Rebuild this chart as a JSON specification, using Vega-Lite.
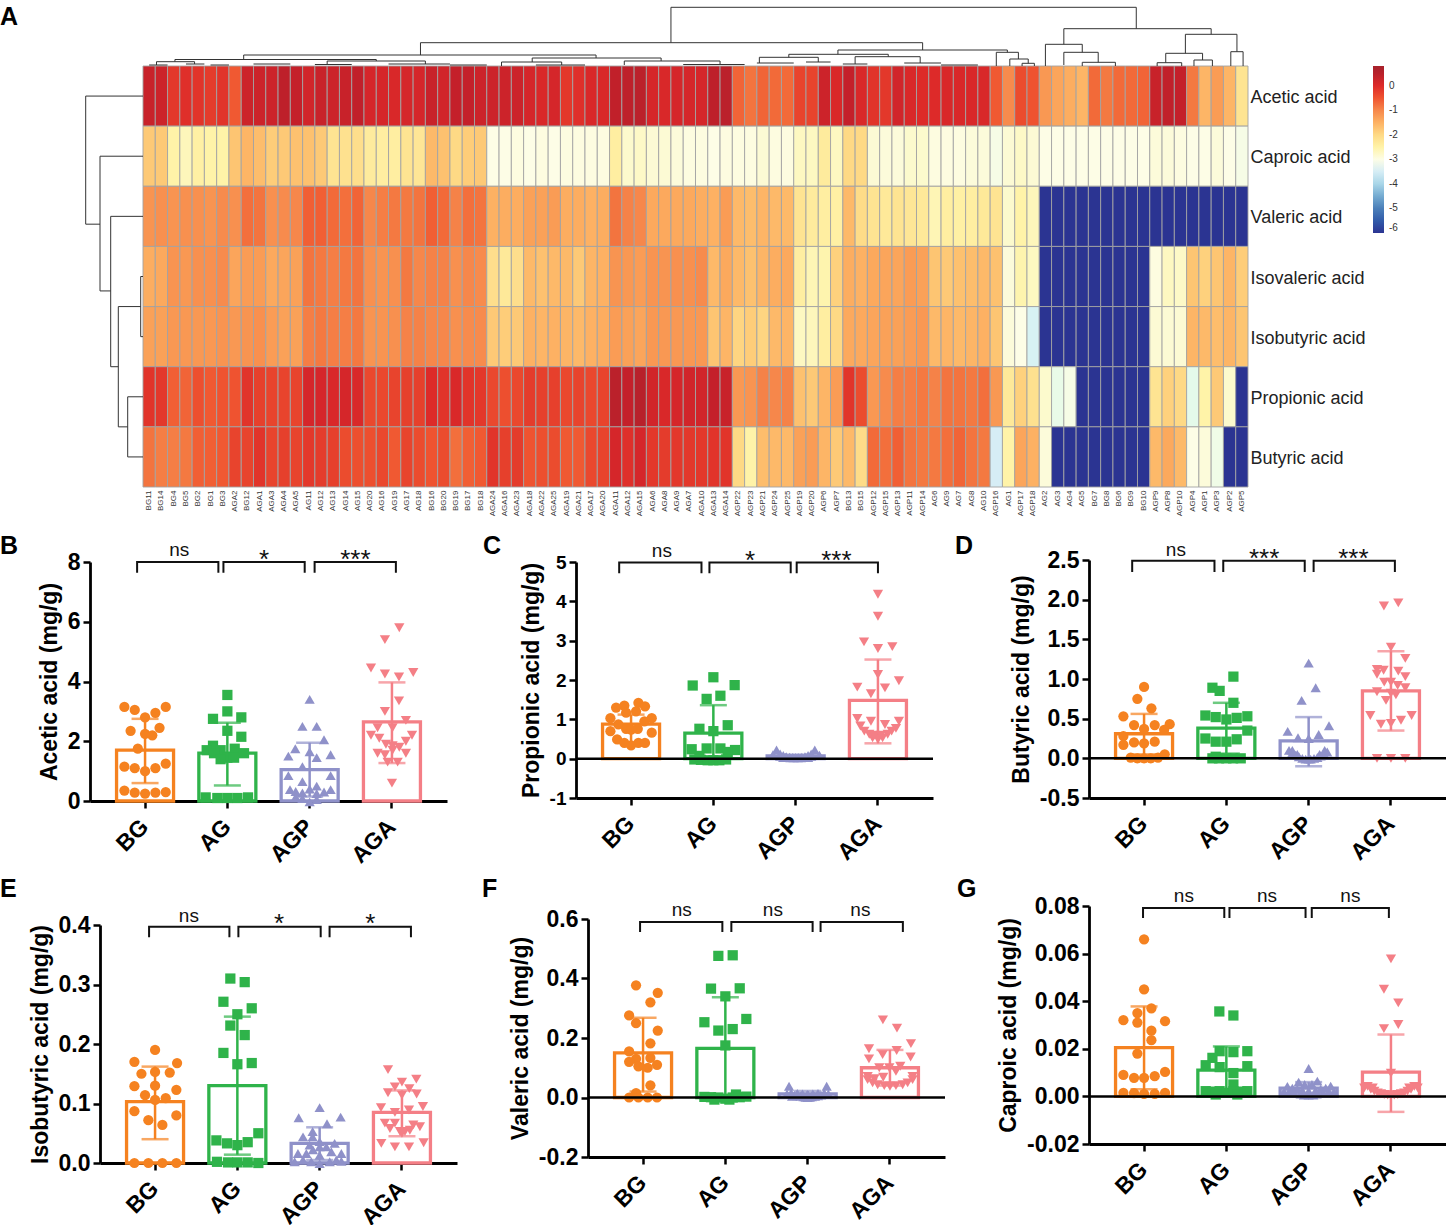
{"$schema":"https://vega.github.io/schema/vega-lite/v6.json","padding":{"left":0,"top":4,"right":0,"bottom":0},"background":"white","spacing":0,"config":{"view":{"stroke":null},"font":"Liberation Sans","axis":{"grid":false,"domainColor":"black","domainWidth":2.8,"tickColor":"black","tickWidth":2.5,"tickSize":7,"labelColor":"black","titleColor":"black","labelFont":"Liberation Sans","titleFont":"Liberation Sans","labelFontWeight":"bold","titleFontWeight":"bold","labelFontSize":23,"titleFontSize":23,"titlePadding":6,"labelPadding":3,"zindex":1,"labelOverlap":false},"axisX":{"labelAngle":-45,"labelAlign":"right","labelBaseline":"middle","labelFontSize":23,"labelPadding":15},"title":{"font":"Liberation Sans","fontWeight":"bold","fontSize":25,"color":"black","anchor":"start","frame":"group","orient":"top","offset":0,"baseline":"alphabetic","align":"left"}},
"datasets":{
"heat":[
{"s":"BG11","a":"Acetic acid","v":0.25},{"s":"BG14","a":"Acetic acid","v":0.2},{"s":"BG4","a":"Acetic acid","v":-0.15},{"s":"BG5","a":"Acetic acid","v":-0.05},{"s":"BG2","a":"Acetic acid","v":-0.1},{"s":"BG1","a":"Acetic acid","v":-0.2},{"s":"BG3","a":"Acetic acid","v":-0.1},{"s":"AGA2","a":"Acetic acid","v":-0.55},{"s":"BG12","a":"Acetic acid","v":0.2},{"s":"AGA1","a":"Acetic acid","v":0.2},{"s":"AGA3","a":"Acetic acid","v":0.2},{"s":"AGA4","a":"Acetic acid","v":0.4},{"s":"AGA5","a":"Acetic acid","v":0.3},{"s":"AG11","a":"Acetic acid","v":0.15},{"s":"AG12","a":"Acetic acid","v":0.25},{"s":"AG13","a":"Acetic acid","v":0.2},{"s":"AG14","a":"Acetic acid","v":0.25},{"s":"AG15","a":"Acetic acid","v":0.35},{"s":"AG20","a":"Acetic acid","v":0.1},{"s":"AG16","a":"Acetic acid","v":0.1},{"s":"AG19","a":"Acetic acid","v":0.05},{"s":"AG17","a":"Acetic acid","v":0.1},{"s":"AG18","a":"Acetic acid","v":0.1},{"s":"BG16","a":"Acetic acid","v":0.25},{"s":"BG20","a":"Acetic acid","v":0.15},{"s":"BG19","a":"Acetic acid","v":0.3},{"s":"BG17","a":"Acetic acid","v":0.3},{"s":"BG18","a":"Acetic acid","v":0.2},{"s":"AGA24","a":"Acetic acid","v":0.2},{"s":"AGA16","a":"Acetic acid","v":0.2},{"s":"AGA23","a":"Acetic acid","v":0.2},{"s":"AGA18","a":"Acetic acid","v":0.1},{"s":"AGA22","a":"Acetic acid","v":0.05},{"s":"AGA25","a":"Acetic acid","v":0.1},{"s":"AGA19","a":"Acetic acid","v":-0.15},{"s":"AGA21","a":"Acetic acid","v":-0.05},{"s":"AGA17","a":"Acetic acid","v":0.05},{"s":"AGA20","a":"Acetic acid","v":0.05},{"s":"AGA11","a":"Acetic acid","v":0.35},{"s":"AGA12","a":"Acetic acid","v":0.4},{"s":"AGA15","a":"Acetic acid","v":0.45},{"s":"AGA6","a":"Acetic acid","v":0.1},{"s":"AGA8","a":"Acetic acid","v":0.05},{"s":"AGA9","a":"Acetic acid","v":0.1},{"s":"AGA7","a":"Acetic acid","v":0.1},{"s":"AGA10","a":"Acetic acid","v":0.1},{"s":"AGA13","a":"Acetic acid","v":0.4},{"s":"AGA14","a":"Acetic acid","v":0.45},{"s":"AGP22","a":"Acetic acid","v":-0.65},{"s":"AGP23","a":"Acetic acid","v":-0.8},{"s":"AGP21","a":"Acetic acid","v":-0.65},{"s":"AGP24","a":"Acetic acid","v":-0.7},{"s":"AGP25","a":"Acetic acid","v":-0.7},{"s":"AGP19","a":"Acetic acid","v":-0.3},{"s":"AGP20","a":"Acetic acid","v":-0.3},{"s":"AGP6","a":"Acetic acid","v":0.2},{"s":"AGP7","a":"Acetic acid","v":0.05},{"s":"BG13","a":"Acetic acid","v":0.3},{"s":"BG15","a":"Acetic acid","v":0.05},{"s":"AGP12","a":"Acetic acid","v":-0.1},{"s":"AGP15","a":"Acetic acid","v":-0.15},{"s":"AGP13","a":"Acetic acid","v":0.15},{"s":"AGP11","a":"Acetic acid","v":0.05},{"s":"AGP14","a":"Acetic acid","v":0},{"s":"AG6","a":"Acetic acid","v":0},{"s":"AG9","a":"Acetic acid","v":0.05},{"s":"AG7","a":"Acetic acid","v":0.05},{"s":"AG8","a":"Acetic acid","v":0.05},{"s":"AG10","a":"Acetic acid","v":0.05},{"s":"AGP16","a":"Acetic acid","v":-0.55},{"s":"AG1","a":"Acetic acid","v":-1.05},{"s":"AGP17","a":"Acetic acid","v":-0.4},{"s":"AGP18","a":"Acetic acid","v":-0.5},{"s":"AG2","a":"Acetic acid","v":-1.2},{"s":"AG3","a":"Acetic acid","v":-1.35},{"s":"AG4","a":"Acetic acid","v":-1.45},{"s":"AG5","a":"Acetic acid","v":-1.55},{"s":"BG7","a":"Acetic acid","v":-0.7},{"s":"BG8","a":"Acetic acid","v":-0.85},{"s":"BG6","a":"Acetic acid","v":-0.7},{"s":"BG9","a":"Acetic acid","v":-0.7},{"s":"BG10","a":"Acetic acid","v":-0.65},{"s":"AGP9","a":"Acetic acid","v":0.25},{"s":"AGP8","a":"Acetic acid","v":0.35},{"s":"AGP10","a":"Acetic acid","v":0.3},{"s":"AGP4","a":"Acetic acid","v":-0.85},{"s":"AGP1","a":"Acetic acid","v":-1.55},{"s":"AGP3","a":"Acetic acid","v":-1.25},{"s":"AGP2","a":"Acetic acid","v":-1.55},{"s":"AGP5","a":"Acetic acid","v":-2.2},
{"s":"BG11","a":"Caproic acid","v":-1.8},{"s":"BG14","a":"Caproic acid","v":-1.8},{"s":"BG4","a":"Caproic acid","v":-2.5},{"s":"BG5","a":"Caproic acid","v":-2.65},{"s":"BG2","a":"Caproic acid","v":-2.45},{"s":"BG1","a":"Caproic acid","v":-2.5},{"s":"BG3","a":"Caproic acid","v":-2.5},{"s":"AGA2","a":"Caproic acid","v":-1.75},{"s":"BG12","a":"Caproic acid","v":-1.55},{"s":"AGA1","a":"Caproic acid","v":-1.65},{"s":"AGA3","a":"Caproic acid","v":-1.85},{"s":"AGA4","a":"Caproic acid","v":-1.8},{"s":"AGA5","a":"Caproic acid","v":-1.7},{"s":"AG11","a":"Caproic acid","v":-1.7},{"s":"AG12","a":"Caproic acid","v":-1.8},{"s":"AG13","a":"Caproic acid","v":-2.2},{"s":"AG14","a":"Caproic acid","v":-2.15},{"s":"AG15","a":"Caproic acid","v":-2.1},{"s":"AG20","a":"Caproic acid","v":-2.35},{"s":"AG16","a":"Caproic acid","v":-2.4},{"s":"AG19","a":"Caproic acid","v":-2.4},{"s":"AG17","a":"Caproic acid","v":-2.2},{"s":"AG18","a":"Caproic acid","v":-2.25},{"s":"BG16","a":"Caproic acid","v":-1.6},{"s":"BG20","a":"Caproic acid","v":-1.7},{"s":"BG19","a":"Caproic acid","v":-2},{"s":"BG17","a":"Caproic acid","v":-1.85},{"s":"BG18","a":"Caproic acid","v":-1.8},{"s":"AGA24","a":"Caproic acid","v":-3},{"s":"AGA16","a":"Caproic acid","v":-3},{"s":"AGA23","a":"Caproic acid","v":-2.95},{"s":"AGA18","a":"Caproic acid","v":-3},{"s":"AGA22","a":"Caproic acid","v":-2.95},{"s":"AGA25","a":"Caproic acid","v":-3},{"s":"AGA19","a":"Caproic acid","v":-2.95},{"s":"AGA21","a":"Caproic acid","v":-2.95},{"s":"AGA17","a":"Caproic acid","v":-2.95},{"s":"AGA20","a":"Caproic acid","v":-2.95},{"s":"AGA11","a":"Caproic acid","v":-2.4},{"s":"AGA12","a":"Caproic acid","v":-2.8},{"s":"AGA15","a":"Caproic acid","v":-2.75},{"s":"AGA6","a":"Caproic acid","v":-2.85},{"s":"AGA8","a":"Caproic acid","v":-2.85},{"s":"AGA9","a":"Caproic acid","v":-2.9},{"s":"AGA7","a":"Caproic acid","v":-2.95},{"s":"AGA10","a":"Caproic acid","v":-2.95},{"s":"AGA13","a":"Caproic acid","v":-3},{"s":"AGA14","a":"Caproic acid","v":-2.95},{"s":"AGP22","a":"Caproic acid","v":-2.95},{"s":"AGP23","a":"Caproic acid","v":-2.95},{"s":"AGP21","a":"Caproic acid","v":-2.85},{"s":"AGP24","a":"Caproic acid","v":-2.95},{"s":"AGP25","a":"Caproic acid","v":-2.95},{"s":"AGP19","a":"Caproic acid","v":-2.7},{"s":"AGP20","a":"Caproic acid","v":-2.7},{"s":"AGP6","a":"Caproic acid","v":-2.35},{"s":"AGP7","a":"Caproic acid","v":-2.7},{"s":"BG13","a":"Caproic acid","v":-2},{"s":"BG15","a":"Caproic acid","v":-2},{"s":"AGP12","a":"Caproic acid","v":-2.85},{"s":"AGP15","a":"Caproic acid","v":-2.9},{"s":"AGP13","a":"Caproic acid","v":-2.9},{"s":"AGP11","a":"Caproic acid","v":-2.8},{"s":"AGP14","a":"Caproic acid","v":-2.8},{"s":"AG6","a":"Caproic acid","v":-2.95},{"s":"AG9","a":"Caproic acid","v":-2.95},{"s":"AG7","a":"Caproic acid","v":-2.95},{"s":"AG8","a":"Caproic acid","v":-2.9},{"s":"AG10","a":"Caproic acid","v":-2.9},{"s":"AGP16","a":"Caproic acid","v":-3.05},{"s":"AG1","a":"Caproic acid","v":-2.85},{"s":"AGP17","a":"Caproic acid","v":-2.75},{"s":"AGP18","a":"Caproic acid","v":-2.85},{"s":"AG2","a":"Caproic acid","v":-3},{"s":"AG3","a":"Caproic acid","v":-3},{"s":"AG4","a":"Caproic acid","v":-3},{"s":"AG5","a":"Caproic acid","v":-3},{"s":"BG7","a":"Caproic acid","v":-3},{"s":"BG8","a":"Caproic acid","v":-3},{"s":"BG6","a":"Caproic acid","v":-3},{"s":"BG9","a":"Caproic acid","v":-3},{"s":"BG10","a":"Caproic acid","v":-3},{"s":"AGP9","a":"Caproic acid","v":-2.9},{"s":"AGP8","a":"Caproic acid","v":-2.9},{"s":"AGP10","a":"Caproic acid","v":-2.95},{"s":"AGP4","a":"Caproic acid","v":-3},{"s":"AGP1","a":"Caproic acid","v":-3},{"s":"AGP3","a":"Caproic acid","v":-2.9},{"s":"AGP2","a":"Caproic acid","v":-3},{"s":"AGP5","a":"Caproic acid","v":-3.05},
{"s":"BG11","a":"Valeric acid","v":-1.15},{"s":"BG14","a":"Valeric acid","v":-1.1},{"s":"BG4","a":"Valeric acid","v":-1.15},{"s":"BG5","a":"Valeric acid","v":-1.1},{"s":"BG2","a":"Valeric acid","v":-1.1},{"s":"BG1","a":"Valeric acid","v":-1.15},{"s":"BG3","a":"Valeric acid","v":-1.05},{"s":"AGA2","a":"Valeric acid","v":-1.1},{"s":"BG12","a":"Valeric acid","v":-0.75},{"s":"AGA1","a":"Valeric acid","v":-0.8},{"s":"AGA3","a":"Valeric acid","v":-1.1},{"s":"AGA4","a":"Valeric acid","v":-1.05},{"s":"AGA5","a":"Valeric acid","v":-1},{"s":"AG11","a":"Valeric acid","v":-0.6},{"s":"AG12","a":"Valeric acid","v":-0.6},{"s":"AG13","a":"Valeric acid","v":-0.7},{"s":"AG14","a":"Valeric acid","v":-0.75},{"s":"AG15","a":"Valeric acid","v":-0.65},{"s":"AG20","a":"Valeric acid","v":-1},{"s":"AG16","a":"Valeric acid","v":-0.9},{"s":"AG19","a":"Valeric acid","v":-0.85},{"s":"AG17","a":"Valeric acid","v":-0.85},{"s":"AG18","a":"Valeric acid","v":-0.8},{"s":"BG16","a":"Valeric acid","v":-0.6},{"s":"BG20","a":"Valeric acid","v":-0.7},{"s":"BG19","a":"Valeric acid","v":-0.95},{"s":"BG17","a":"Valeric acid","v":-0.75},{"s":"BG18","a":"Valeric acid","v":-0.8},{"s":"AGA24","a":"Valeric acid","v":-1.5},{"s":"AGA16","a":"Valeric acid","v":-1.45},{"s":"AGA23","a":"Valeric acid","v":-1.45},{"s":"AGA18","a":"Valeric acid","v":-1.3},{"s":"AGA22","a":"Valeric acid","v":-1.3},{"s":"AGA25","a":"Valeric acid","v":-1.25},{"s":"AGA19","a":"Valeric acid","v":-1.45},{"s":"AGA21","a":"Valeric acid","v":-1.45},{"s":"AGA17","a":"Valeric acid","v":-1.5},{"s":"AGA20","a":"Valeric acid","v":-1.45},{"s":"AGA11","a":"Valeric acid","v":-0.8},{"s":"AGA12","a":"Valeric acid","v":-0.95},{"s":"AGA15","a":"Valeric acid","v":-1},{"s":"AGA6","a":"Valeric acid","v":-1.4},{"s":"AGA8","a":"Valeric acid","v":-1.4},{"s":"AGA9","a":"Valeric acid","v":-1.4},{"s":"AGA7","a":"Valeric acid","v":-1.4},{"s":"AGA10","a":"Valeric acid","v":-1.45},{"s":"AGA13","a":"Valeric acid","v":-1.5},{"s":"AGA14","a":"Valeric acid","v":-1.25},{"s":"AGP22","a":"Valeric acid","v":-1.6},{"s":"AGP23","a":"Valeric acid","v":-1.65},{"s":"AGP21","a":"Valeric acid","v":-1.55},{"s":"AGP24","a":"Valeric acid","v":-1.6},{"s":"AGP25","a":"Valeric acid","v":-1.6},{"s":"AGP19","a":"Valeric acid","v":-2.2},{"s":"AGP20","a":"Valeric acid","v":-2.35},{"s":"AGP6","a":"Valeric acid","v":-2.4},{"s":"AGP7","a":"Valeric acid","v":-2.45},{"s":"BG13","a":"Valeric acid","v":-1.6},{"s":"BG15","a":"Valeric acid","v":-2.05},{"s":"AGP12","a":"Valeric acid","v":-2.2},{"s":"AGP15","a":"Valeric acid","v":-2.3},{"s":"AGP13","a":"Valeric acid","v":-2.2},{"s":"AGP11","a":"Valeric acid","v":-2.25},{"s":"AGP14","a":"Valeric acid","v":-2.3},{"s":"AG6","a":"Valeric acid","v":-2.6},{"s":"AG9","a":"Valeric acid","v":-2.4},{"s":"AG7","a":"Valeric acid","v":-2.45},{"s":"AG8","a":"Valeric acid","v":-2.4},{"s":"AG10","a":"Valeric acid","v":-2.3},{"s":"AGP16","a":"Valeric acid","v":-2.2},{"s":"AG1","a":"Valeric acid","v":-2.8},{"s":"AGP17","a":"Valeric acid","v":-2.5},{"s":"AGP18","a":"Valeric acid","v":-2.65},{"s":"AG2","a":"Valeric acid","v":-6},{"s":"AG3","a":"Valeric acid","v":-6},{"s":"AG4","a":"Valeric acid","v":-6},{"s":"AG5","a":"Valeric acid","v":-6},{"s":"BG7","a":"Valeric acid","v":-6},{"s":"BG8","a":"Valeric acid","v":-6},{"s":"BG6","a":"Valeric acid","v":-6},{"s":"BG9","a":"Valeric acid","v":-6},{"s":"BG10","a":"Valeric acid","v":-6},{"s":"AGP9","a":"Valeric acid","v":-6},{"s":"AGP8","a":"Valeric acid","v":-6},{"s":"AGP10","a":"Valeric acid","v":-6},{"s":"AGP4","a":"Valeric acid","v":-6},{"s":"AGP1","a":"Valeric acid","v":-6},{"s":"AGP3","a":"Valeric acid","v":-6},{"s":"AGP2","a":"Valeric acid","v":-6},{"s":"AGP5","a":"Valeric acid","v":-6},
{"s":"BG11","a":"Isovaleric acid","v":-1.45},{"s":"BG14","a":"Isovaleric acid","v":-1.4},{"s":"BG4","a":"Isovaleric acid","v":-1.15},{"s":"BG5","a":"Isovaleric acid","v":-1.2},{"s":"BG2","a":"Isovaleric acid","v":-1.1},{"s":"BG1","a":"Isovaleric acid","v":-1.1},{"s":"BG3","a":"Isovaleric acid","v":-1.05},{"s":"AGA2","a":"Isovaleric acid","v":-1.35},{"s":"BG12","a":"Isovaleric acid","v":-1.25},{"s":"AGA1","a":"Isovaleric acid","v":-1.25},{"s":"AGA3","a":"Isovaleric acid","v":-1.4},{"s":"AGA4","a":"Isovaleric acid","v":-1.35},{"s":"AGA5","a":"Isovaleric acid","v":-1.3},{"s":"AG11","a":"Isovaleric acid","v":-0.8},{"s":"AG12","a":"Isovaleric acid","v":-0.85},{"s":"AG13","a":"Isovaleric acid","v":-0.9},{"s":"AG14","a":"Isovaleric acid","v":-0.85},{"s":"AG15","a":"Isovaleric acid","v":-0.8},{"s":"AG20","a":"Isovaleric acid","v":-1.1},{"s":"AG16","a":"Isovaleric acid","v":-1.15},{"s":"AG19","a":"Isovaleric acid","v":-1.1},{"s":"AG17","a":"Isovaleric acid","v":-0.85},{"s":"AG18","a":"Isovaleric acid","v":-1},{"s":"BG16","a":"Isovaleric acid","v":-0.95},{"s":"BG20","a":"Isovaleric acid","v":-0.95},{"s":"BG19","a":"Isovaleric acid","v":-1.1},{"s":"BG17","a":"Isovaleric acid","v":-1},{"s":"BG18","a":"Isovaleric acid","v":-1.05},{"s":"AGA24","a":"Isovaleric acid","v":-2.1},{"s":"AGA16","a":"Isovaleric acid","v":-2.3},{"s":"AGA23","a":"Isovaleric acid","v":-2.1},{"s":"AGA18","a":"Isovaleric acid","v":-1.6},{"s":"AGA22","a":"Isovaleric acid","v":-1.7},{"s":"AGA25","a":"Isovaleric acid","v":-1.6},{"s":"AGA19","a":"Isovaleric acid","v":-1.6},{"s":"AGA21","a":"Isovaleric acid","v":-1.8},{"s":"AGA17","a":"Isovaleric acid","v":-1.55},{"s":"AGA20","a":"Isovaleric acid","v":-1.5},{"s":"AGA11","a":"Isovaleric acid","v":-1.15},{"s":"AGA12","a":"Isovaleric acid","v":-1.2},{"s":"AGA15","a":"Isovaleric acid","v":-1.25},{"s":"AGA6","a":"Isovaleric acid","v":-1.15},{"s":"AGA8","a":"Isovaleric acid","v":-1.15},{"s":"AGA9","a":"Isovaleric acid","v":-1.1},{"s":"AGA7","a":"Isovaleric acid","v":-1.1},{"s":"AGA10","a":"Isovaleric acid","v":-1.05},{"s":"AGA13","a":"Isovaleric acid","v":-1.6},{"s":"AGA14","a":"Isovaleric acid","v":-1.4},{"s":"AGP22","a":"Isovaleric acid","v":-1.6},{"s":"AGP23","a":"Isovaleric acid","v":-1.7},{"s":"AGP21","a":"Isovaleric acid","v":-1.55},{"s":"AGP24","a":"Isovaleric acid","v":-1.45},{"s":"AGP25","a":"Isovaleric acid","v":-1.4},{"s":"AGP19","a":"Isovaleric acid","v":-2.4},{"s":"AGP20","a":"Isovaleric acid","v":-2.6},{"s":"AGP6","a":"Isovaleric acid","v":-2.55},{"s":"AGP7","a":"Isovaleric acid","v":-1.9},{"s":"BG13","a":"Isovaleric acid","v":-1.45},{"s":"BG15","a":"Isovaleric acid","v":-1.5},{"s":"AGP12","a":"Isovaleric acid","v":-1.4},{"s":"AGP15","a":"Isovaleric acid","v":-1.35},{"s":"AGP13","a":"Isovaleric acid","v":-1.35},{"s":"AGP11","a":"Isovaleric acid","v":-1.25},{"s":"AGP14","a":"Isovaleric acid","v":-1.3},{"s":"AG6","a":"Isovaleric acid","v":-1.75},{"s":"AG9","a":"Isovaleric acid","v":-1.8},{"s":"AG7","a":"Isovaleric acid","v":-1.7},{"s":"AG8","a":"Isovaleric acid","v":-1.65},{"s":"AG10","a":"Isovaleric acid","v":-1.6},{"s":"AGP16","a":"Isovaleric acid","v":-1.7},{"s":"AG1","a":"Isovaleric acid","v":-2.9},{"s":"AGP17","a":"Isovaleric acid","v":-2.55},{"s":"AGP18","a":"Isovaleric acid","v":-2.7},{"s":"AG2","a":"Isovaleric acid","v":-6},{"s":"AG3","a":"Isovaleric acid","v":-6},{"s":"AG4","a":"Isovaleric acid","v":-6},{"s":"AG5","a":"Isovaleric acid","v":-6},{"s":"BG7","a":"Isovaleric acid","v":-6},{"s":"BG8","a":"Isovaleric acid","v":-6},{"s":"BG6","a":"Isovaleric acid","v":-6},{"s":"BG9","a":"Isovaleric acid","v":-6},{"s":"BG10","a":"Isovaleric acid","v":-6},{"s":"AGP9","a":"Isovaleric acid","v":-2.95},{"s":"AGP8","a":"Isovaleric acid","v":-2.7},{"s":"AGP10","a":"Isovaleric acid","v":-2.75},{"s":"AGP4","a":"Isovaleric acid","v":-1.75},{"s":"AGP1","a":"Isovaleric acid","v":-1.9},{"s":"AGP3","a":"Isovaleric acid","v":-1.75},{"s":"AGP2","a":"Isovaleric acid","v":-1.55},{"s":"AGP5","a":"Isovaleric acid","v":-1.85},
{"s":"BG11","a":"Isobutyric acid","v":-1.3},{"s":"BG14","a":"Isobutyric acid","v":-1.3},{"s":"BG4","a":"Isobutyric acid","v":-1.2},{"s":"BG5","a":"Isobutyric acid","v":-1.2},{"s":"BG2","a":"Isobutyric acid","v":-1.2},{"s":"BG1","a":"Isobutyric acid","v":-1.2},{"s":"BG3","a":"Isobutyric acid","v":-1.15},{"s":"AGA2","a":"Isobutyric acid","v":-1.2},{"s":"BG12","a":"Isobutyric acid","v":-1.15},{"s":"AGA1","a":"Isobutyric acid","v":-1.1},{"s":"AGA3","a":"Isobutyric acid","v":-1.25},{"s":"AGA4","a":"Isobutyric acid","v":-1.3},{"s":"AGA5","a":"Isobutyric acid","v":-1.3},{"s":"AG11","a":"Isobutyric acid","v":-0.9},{"s":"AG12","a":"Isobutyric acid","v":-0.85},{"s":"AG13","a":"Isobutyric acid","v":-0.9},{"s":"AG14","a":"Isobutyric acid","v":-0.9},{"s":"AG15","a":"Isobutyric acid","v":-0.85},{"s":"AG20","a":"Isobutyric acid","v":-1.15},{"s":"AG16","a":"Isobutyric acid","v":-1.15},{"s":"AG19","a":"Isobutyric acid","v":-1.1},{"s":"AG17","a":"Isobutyric acid","v":-0.95},{"s":"AG18","a":"Isobutyric acid","v":-0.95},{"s":"BG16","a":"Isobutyric acid","v":-1},{"s":"BG20","a":"Isobutyric acid","v":-1},{"s":"BG19","a":"Isobutyric acid","v":-1.1},{"s":"BG17","a":"Isobutyric acid","v":-1.05},{"s":"BG18","a":"Isobutyric acid","v":-1.05},{"s":"AGA24","a":"Isobutyric acid","v":-1.8},{"s":"AGA16","a":"Isobutyric acid","v":-1.85},{"s":"AGA23","a":"Isobutyric acid","v":-1.8},{"s":"AGA18","a":"Isobutyric acid","v":-1.5},{"s":"AGA22","a":"Isobutyric acid","v":-1.55},{"s":"AGA25","a":"Isobutyric acid","v":-1.5},{"s":"AGA19","a":"Isobutyric acid","v":-1.55},{"s":"AGA21","a":"Isobutyric acid","v":-1.6},{"s":"AGA17","a":"Isobutyric acid","v":-1.5},{"s":"AGA20","a":"Isobutyric acid","v":-1.45},{"s":"AGA11","a":"Isobutyric acid","v":-1.25},{"s":"AGA12","a":"Isobutyric acid","v":-1.3},{"s":"AGA15","a":"Isobutyric acid","v":-1.35},{"s":"AGA6","a":"Isobutyric acid","v":-1.2},{"s":"AGA8","a":"Isobutyric acid","v":-1.2},{"s":"AGA9","a":"Isobutyric acid","v":-1.2},{"s":"AGA7","a":"Isobutyric acid","v":-1.2},{"s":"AGA10","a":"Isobutyric acid","v":-1.2},{"s":"AGA13","a":"Isobutyric acid","v":-1.75},{"s":"AGA14","a":"Isobutyric acid","v":-1.55},{"s":"AGP22","a":"Isobutyric acid","v":-1.95},{"s":"AGP23","a":"Isobutyric acid","v":-1.85},{"s":"AGP21","a":"Isobutyric acid","v":-1.95},{"s":"AGP24","a":"Isobutyric acid","v":-1.6},{"s":"AGP25","a":"Isobutyric acid","v":-1.55},{"s":"AGP19","a":"Isobutyric acid","v":-2.7},{"s":"AGP20","a":"Isobutyric acid","v":-2.65},{"s":"AGP6","a":"Isobutyric acid","v":-2.4},{"s":"AGP7","a":"Isobutyric acid","v":-2},{"s":"BG13","a":"Isobutyric acid","v":-1.4},{"s":"BG15","a":"Isobutyric acid","v":-1.4},{"s":"AGP12","a":"Isobutyric acid","v":-1.35},{"s":"AGP15","a":"Isobutyric acid","v":-1.3},{"s":"AGP13","a":"Isobutyric acid","v":-1.3},{"s":"AGP11","a":"Isobutyric acid","v":-1.25},{"s":"AGP14","a":"Isobutyric acid","v":-1.2},{"s":"AG6","a":"Isobutyric acid","v":-1.6},{"s":"AG9","a":"Isobutyric acid","v":-1.55},{"s":"AG7","a":"Isobutyric acid","v":-1.6},{"s":"AG8","a":"Isobutyric acid","v":-1.55},{"s":"AG10","a":"Isobutyric acid","v":-1.5},{"s":"AGP16","a":"Isobutyric acid","v":-1.75},{"s":"AG1","a":"Isobutyric acid","v":-2.9},{"s":"AGP17","a":"Isobutyric acid","v":-3},{"s":"AGP18","a":"Isobutyric acid","v":-3.4},{"s":"AG2","a":"Isobutyric acid","v":-6},{"s":"AG3","a":"Isobutyric acid","v":-6},{"s":"AG4","a":"Isobutyric acid","v":-6},{"s":"AG5","a":"Isobutyric acid","v":-6},{"s":"BG7","a":"Isobutyric acid","v":-6},{"s":"BG8","a":"Isobutyric acid","v":-6},{"s":"BG6","a":"Isobutyric acid","v":-6},{"s":"BG9","a":"Isobutyric acid","v":-6},{"s":"BG10","a":"Isobutyric acid","v":-6},{"s":"AGP9","a":"Isobutyric acid","v":-2.85},{"s":"AGP8","a":"Isobutyric acid","v":-2.85},{"s":"AGP10","a":"Isobutyric acid","v":-2.85},{"s":"AGP4","a":"Isobutyric acid","v":-1.55},{"s":"AGP1","a":"Isobutyric acid","v":-1.6},{"s":"AGP3","a":"Isobutyric acid","v":-1.65},{"s":"AGP2","a":"Isobutyric acid","v":-1.55},{"s":"AGP5","a":"Isobutyric acid","v":-1.75},
{"s":"BG11","a":"Propionic acid","v":-0.1},{"s":"BG14","a":"Propionic acid","v":-0.15},{"s":"BG4","a":"Propionic acid","v":-0.6},{"s":"BG5","a":"Propionic acid","v":-0.65},{"s":"BG2","a":"Propionic acid","v":-0.45},{"s":"BG1","a":"Propionic acid","v":-0.55},{"s":"BG3","a":"Propionic acid","v":-0.5},{"s":"AGA2","a":"Propionic acid","v":-0.5},{"s":"BG12","a":"Propionic acid","v":-0.1},{"s":"AGA1","a":"Propionic acid","v":-0.25},{"s":"AGA3","a":"Propionic acid","v":-0.3},{"s":"AGA4","a":"Propionic acid","v":-0.3},{"s":"AGA5","a":"Propionic acid","v":-0.3},{"s":"AG11","a":"Propionic acid","v":0.1},{"s":"AG12","a":"Propionic acid","v":0.1},{"s":"AG13","a":"Propionic acid","v":0.05},{"s":"AG14","a":"Propionic acid","v":0.1},{"s":"AG15","a":"Propionic acid","v":0.05},{"s":"AG20","a":"Propionic acid","v":-0.35},{"s":"AG16","a":"Propionic acid","v":-0.35},{"s":"AG19","a":"Propionic acid","v":-0.3},{"s":"AG17","a":"Propionic acid","v":-0.25},{"s":"AG18","a":"Propionic acid","v":-0.25},{"s":"BG16","a":"Propionic acid","v":0},{"s":"BG20","a":"Propionic acid","v":-0.1},{"s":"BG19","a":"Propionic acid","v":0.05},{"s":"BG17","a":"Propionic acid","v":-0.1},{"s":"BG18","a":"Propionic acid","v":-0.15},{"s":"AGA24","a":"Propionic acid","v":-0.35},{"s":"AGA16","a":"Propionic acid","v":-0.45},{"s":"AGA23","a":"Propionic acid","v":-0.35},{"s":"AGA18","a":"Propionic acid","v":-0.2},{"s":"AGA22","a":"Propionic acid","v":-0.25},{"s":"AGA25","a":"Propionic acid","v":-0.25},{"s":"AGA19","a":"Propionic acid","v":-0.35},{"s":"AGA21","a":"Propionic acid","v":-0.3},{"s":"AGA17","a":"Propionic acid","v":-0.35},{"s":"AGA20","a":"Propionic acid","v":-0.3},{"s":"AGA11","a":"Propionic acid","v":0.45},{"s":"AGA12","a":"Propionic acid","v":0.3},{"s":"AGA15","a":"Propionic acid","v":0.5},{"s":"AGA6","a":"Propionic acid","v":0.15},{"s":"AGA8","a":"Propionic acid","v":0.05},{"s":"AGA9","a":"Propionic acid","v":0.1},{"s":"AGA7","a":"Propionic acid","v":0.15},{"s":"AGA10","a":"Propionic acid","v":0.15},{"s":"AGA13","a":"Propionic acid","v":0.3},{"s":"AGA14","a":"Propionic acid","v":0.25},{"s":"AGP22","a":"Propionic acid","v":-1.2},{"s":"AGP23","a":"Propionic acid","v":-1.15},{"s":"AGP21","a":"Propionic acid","v":-0.95},{"s":"AGP24","a":"Propionic acid","v":-1},{"s":"AGP25","a":"Propionic acid","v":-0.95},{"s":"AGP19","a":"Propionic acid","v":-1.7},{"s":"AGP20","a":"Propionic acid","v":-1.8},{"s":"AGP6","a":"Propionic acid","v":-1.55},{"s":"AGP7","a":"Propionic acid","v":-1.25},{"s":"BG13","a":"Propionic acid","v":-0.1},{"s":"BG15","a":"Propionic acid","v":-0.4},{"s":"AGP12","a":"Propionic acid","v":-1.2},{"s":"AGP15","a":"Propionic acid","v":-1.05},{"s":"AGP13","a":"Propionic acid","v":-0.9},{"s":"AGP11","a":"Propionic acid","v":-0.9},{"s":"AGP14","a":"Propionic acid","v":-0.85},{"s":"AG6","a":"Propionic acid","v":-0.95},{"s":"AG9","a":"Propionic acid","v":-0.8},{"s":"AG7","a":"Propionic acid","v":-0.8},{"s":"AG8","a":"Propionic acid","v":-0.85},{"s":"AG10","a":"Propionic acid","v":-0.75},{"s":"AGP16","a":"Propionic acid","v":-1.2},{"s":"AG1","a":"Propionic acid","v":-2.3},{"s":"AGP17","a":"Propionic acid","v":-1.9},{"s":"AGP18","a":"Propionic acid","v":-2.15},{"s":"AG2","a":"Propionic acid","v":-2.8},{"s":"AG3","a":"Propionic acid","v":-3.15},{"s":"AG4","a":"Propionic acid","v":-3.05},{"s":"AG5","a":"Propionic acid","v":-6},{"s":"BG7","a":"Propionic acid","v":-6},{"s":"BG8","a":"Propionic acid","v":-6},{"s":"BG6","a":"Propionic acid","v":-6},{"s":"BG9","a":"Propionic acid","v":-6},{"s":"BG10","a":"Propionic acid","v":-6},{"s":"AGP9","a":"Propionic acid","v":-2.2},{"s":"AGP8","a":"Propionic acid","v":-1.9},{"s":"AGP10","a":"Propionic acid","v":-2},{"s":"AGP4","a":"Propionic acid","v":-3.2},{"s":"AGP1","a":"Propionic acid","v":-2.5},{"s":"AGP3","a":"Propionic acid","v":-1.8},{"s":"AGP2","a":"Propionic acid","v":-2.8},{"s":"AGP5","a":"Propionic acid","v":-6},
{"s":"BG11","a":"Butyric acid","v":-0.8},{"s":"BG14","a":"Butyric acid","v":-0.9},{"s":"BG4","a":"Butyric acid","v":-0.9},{"s":"BG5","a":"Butyric acid","v":-0.85},{"s":"BG2","a":"Butyric acid","v":-0.6},{"s":"BG1","a":"Butyric acid","v":-0.6},{"s":"BG3","a":"Butyric acid","v":-0.55},{"s":"AGA2","a":"Butyric acid","v":-0.3},{"s":"BG12","a":"Butyric acid","v":-0.3},{"s":"AGA1","a":"Butyric acid","v":-0.1},{"s":"AGA3","a":"Butyric acid","v":-0.3},{"s":"AGA4","a":"Butyric acid","v":-0.25},{"s":"AGA5","a":"Butyric acid","v":-0.3},{"s":"AG11","a":"Butyric acid","v":-0.15},{"s":"AG12","a":"Butyric acid","v":-0.2},{"s":"AG13","a":"Butyric acid","v":-0.25},{"s":"AG14","a":"Butyric acid","v":-0.4},{"s":"AG15","a":"Butyric acid","v":-0.45},{"s":"AG20","a":"Butyric acid","v":-0.45},{"s":"AG16","a":"Butyric acid","v":-0.35},{"s":"AG19","a":"Butyric acid","v":-0.55},{"s":"AG17","a":"Butyric acid","v":-0.3},{"s":"AG18","a":"Butyric acid","v":-0.4},{"s":"BG16","a":"Butyric acid","v":-0.5},{"s":"BG20","a":"Butyric acid","v":-0.4},{"s":"BG19","a":"Butyric acid","v":-0.75},{"s":"BG17","a":"Butyric acid","v":-0.6},{"s":"BG18","a":"Butyric acid","v":-0.55},{"s":"AGA24","a":"Butyric acid","v":-0.1},{"s":"AGA16","a":"Butyric acid","v":-0.25},{"s":"AGA23","a":"Butyric acid","v":-0.2},{"s":"AGA18","a":"Butyric acid","v":-0.5},{"s":"AGA22","a":"Butyric acid","v":-0.45},{"s":"AGA25","a":"Butyric acid","v":-0.4},{"s":"AGA19","a":"Butyric acid","v":-0.55},{"s":"AGA21","a":"Butyric acid","v":-0.55},{"s":"AGA17","a":"Butyric acid","v":-0.35},{"s":"AGA20","a":"Butyric acid","v":-0.3},{"s":"AGA11","a":"Butyric acid","v":0.1},{"s":"AGA12","a":"Butyric acid","v":-0.05},{"s":"AGA15","a":"Butyric acid","v":0.1},{"s":"AGA6","a":"Butyric acid","v":-0.15},{"s":"AGA8","a":"Butyric acid","v":-0.2},{"s":"AGA9","a":"Butyric acid","v":-0.15},{"s":"AGA7","a":"Butyric acid","v":-0.15},{"s":"AGA10","a":"Butyric acid","v":-0.15},{"s":"AGA13","a":"Butyric acid","v":-0.1},{"s":"AGA14","a":"Butyric acid","v":-0.1},{"s":"AGP22","a":"Butyric acid","v":-2},{"s":"AGP23","a":"Butyric acid","v":-2.5},{"s":"AGP21","a":"Butyric acid","v":-1.65},{"s":"AGP24","a":"Butyric acid","v":-1.6},{"s":"AGP25","a":"Butyric acid","v":-1.6},{"s":"AGP19","a":"Butyric acid","v":-1.3},{"s":"AGP20","a":"Butyric acid","v":-1.25},{"s":"AGP6","a":"Butyric acid","v":-1.55},{"s":"AGP7","a":"Butyric acid","v":-1.8},{"s":"BG13","a":"Butyric acid","v":-1.6},{"s":"BG15","a":"Butyric acid","v":-2.05},{"s":"AGP12","a":"Butyric acid","v":-0.7},{"s":"AGP15","a":"Butyric acid","v":-0.75},{"s":"AGP13","a":"Butyric acid","v":-0.6},{"s":"AGP11","a":"Butyric acid","v":-0.8},{"s":"AGP14","a":"Butyric acid","v":-0.85},{"s":"AG6","a":"Butyric acid","v":-0.85},{"s":"AG9","a":"Butyric acid","v":-0.75},{"s":"AG7","a":"Butyric acid","v":-0.65},{"s":"AG8","a":"Butyric acid","v":-0.8},{"s":"AG10","a":"Butyric acid","v":-0.85},{"s":"AGP16","a":"Butyric acid","v":-3.5},{"s":"AG1","a":"Butyric acid","v":-2.5},{"s":"AGP17","a":"Butyric acid","v":-1.35},{"s":"AGP18","a":"Butyric acid","v":-1.5},{"s":"AG2","a":"Butyric acid","v":-2.9},{"s":"AG3","a":"Butyric acid","v":-6},{"s":"AG4","a":"Butyric acid","v":-6},{"s":"AG5","a":"Butyric acid","v":-6},{"s":"BG7","a":"Butyric acid","v":-6},{"s":"BG8","a":"Butyric acid","v":-6},{"s":"BG6","a":"Butyric acid","v":-6},{"s":"BG9","a":"Butyric acid","v":-6},{"s":"BG10","a":"Butyric acid","v":-6},{"s":"AGP9","a":"Butyric acid","v":-1.6},{"s":"AGP8","a":"Butyric acid","v":-1.4},{"s":"AGP10","a":"Butyric acid","v":-1.6},{"s":"AGP4","a":"Butyric acid","v":-3},{"s":"AGP1","a":"Butyric acid","v":-2.9},{"s":"AGP3","a":"Butyric acid","v":-3.1},{"s":"AGP2","a":"Butyric acid","v":-6},{"s":"AGP5","a":"Butyric acid","v":-6}],
"dtop":[{"x":43,"x2":80.9,"h":58.7,"h2":58.7},{"x":43,"x2":43,"h":58.7,"h2":23.3},{"x":80.9,"x2":80.9,"h":58.7,"h2":37.3},{"x":22.6,"x2":63.5,"h":23.3,"h2":23.3},{"x":22.6,"x2":22.6,"h":23.3,"h2":11},{"x":63.5,"x2":63.5,"h":23.3,"h2":16},{"x":8.2,"x2":36.9,"h":11,"h2":11},{"x":8.2,"x2":8.2,"h":11,"h2":6.5},{"x":36.9,"x2":36.9,"h":11,"h2":8},{"x":2.6,"x2":19,"h":6.5,"h2":6.5},{"x":2.6,"x2":2.6,"h":6.5,"h2":4.3},{"x":19,"x2":19,"h":6.5,"h2":5},{"x":31.7,"x2":42.2,"h":8,"h2":8},{"x":31.7,"x2":31.7,"h":8,"h2":4},{"x":42.2,"x2":42.2,"h":8,"h2":5},{"x":1.1,"x2":4.2,"h":4.3,"h2":4.3},{"x":1.1,"x2":1.1,"h":4.3,"h2":1},{"x":4.2,"x2":4.2,"h":4.3,"h2":2},{"x":15,"x2":23,"h":5,"h2":5},{"x":15,"x2":15,"h":5,"h2":1.5},{"x":23,"x2":23,"h":5,"h2":2},{"x":29.2,"x2":34.1,"h":4,"h2":4},{"x":29.2,"x2":29.2,"h":4,"h2":0},{"x":34.1,"x2":34.1,"h":4,"h2":1},{"x":39.2,"x2":47,"h":5,"h2":5},{"x":39.2,"x2":39.2,"h":5,"h2":1},{"x":47,"x2":47,"h":5,"h2":1.5},{"x":56.6,"x2":70.4,"h":16,"h2":16},{"x":56.6,"x2":56.6,"h":16,"h2":11.7},{"x":70.4,"x2":70.4,"h":16,"h2":13.7},{"x":52.6,"x2":60.7,"h":11.7,"h2":11.7},{"x":52.6,"x2":52.6,"h":11.7,"h2":8.7},{"x":60.7,"x2":60.7,"h":11.7,"h2":9.3},{"x":50.2,"x2":55,"h":8.7,"h2":8.7},{"x":50.2,"x2":50.2,"h":8.7,"h2":3},{"x":55,"x2":55,"h":8.7,"h2":4},{"x":58,"x2":63.3,"h":9.3,"h2":9.3},{"x":58,"x2":58,"h":9.3,"h2":2},{"x":63.3,"x2":63.3,"h":9.3,"h2":3},{"x":69.5,"x2":71.3,"h":13.7,"h2":13.7},{"x":69.5,"x2":69.5,"h":13.7,"h2":0},{"x":71.3,"x2":71.3,"h":13.7,"h2":7},{"x":70.6,"x2":72.1,"h":7,"h2":7},{"x":70.6,"x2":70.6,"h":7,"h2":0},{"x":72.1,"x2":72.1,"h":7,"h2":2.7},{"x":71.6,"x2":72.6,"h":2.7,"h2":2.7},{"x":71.6,"x2":71.6,"h":2.7,"h2":0},{"x":72.6,"x2":72.6,"h":2.7,"h2":0},{"x":75,"x2":87,"h":37.3,"h2":37.3},{"x":75,"x2":75,"h":37.3,"h2":21.7},{"x":87,"x2":87,"h":37.3,"h2":31.7},{"x":73.5,"x2":76.5,"h":21.7,"h2":21.7},{"x":73.5,"x2":73.5,"h":21.7,"h2":0},{"x":76.5,"x2":76.5,"h":21.7,"h2":13.7},{"x":75,"x2":77.8,"h":13.7,"h2":13.7},{"x":75,"x2":75,"h":13.7,"h2":1},{"x":77.8,"x2":77.8,"h":13.7,"h2":3.7},{"x":76.5,"x2":79.2,"h":3.7,"h2":3.7},{"x":76.5,"x2":76.5,"h":3.7,"h2":0},{"x":79.2,"x2":79.2,"h":3.7,"h2":0},{"x":84.9,"x2":89.1,"h":31.7,"h2":31.7},{"x":84.9,"x2":84.9,"h":31.7,"h2":12.7},{"x":89.1,"x2":89.1,"h":31.7,"h2":14.3},{"x":83.3,"x2":86.3,"h":12.7,"h2":12.7},{"x":83.3,"x2":83.3,"h":12.7,"h2":3.3},{"x":86.3,"x2":86.3,"h":12.7,"h2":6},{"x":82.6,"x2":84.6,"h":3.3,"h2":3.3},{"x":82.6,"x2":82.6,"h":3.3,"h2":0},{"x":84.6,"x2":84.6,"h":3.3,"h2":0},{"x":85.6,"x2":87.1,"h":6,"h2":6},{"x":85.6,"x2":85.6,"h":6,"h2":0},{"x":87.1,"x2":87.1,"h":6,"h2":0},{"x":88.6,"x2":89.6,"h":14.3,"h2":14.3},{"x":88.6,"x2":88.6,"h":14.3,"h2":0},{"x":89.6,"x2":89.6,"h":14.3,"h2":0},{"x":0.5,"x2":2,"h":1,"h2":1},{"x":3.5,"x2":5,"h":2,"h2":2},{"x":5.5,"x2":7,"h":1,"h2":1},{"x":9,"x2":12,"h":2,"h2":2},{"x":14,"x2":17,"h":1.5,"h2":1.5},{"x":20,"x2":25,"h":2,"h2":2},{"x":25,"x2":28,"h":1,"h2":1},{"x":32,"x2":36,"h":1,"h2":1},{"x":44,"x2":49,"h":1.5,"h2":1.5},{"x":50,"x2":53,"h":3,"h2":3},{"x":54,"x2":56,"h":4,"h2":4},{"x":57,"x2":59,"h":2,"h2":2},{"x":62,"x2":65,"h":3,"h2":3},{"x":65,"x2":68,"h":1,"h2":1}],
"dleft":[{"d":57.3,"d2":57.3,"r":0.5,"r2":2.63},{"d":57.3,"d2":0,"r":0.5,"r2":0.5},{"d":57.3,"d2":43,"r":2.63,"r2":2.63},{"d":43,"d2":43,"r":1.5,"r2":3.74},{"d":43,"d2":0,"r":1.5,"r2":1.5},{"d":43,"d2":32.3,"r":3.74,"r2":3.74},{"d":32.3,"d2":32.3,"r":2.5,"r2":5},{"d":32.3,"d2":0,"r":2.5,"r2":2.5},{"d":32.3,"d2":24.7,"r":5,"r2":5},{"d":24.7,"d2":24.7,"r":4,"r2":6},{"d":24.7,"d2":2.3,"r":4,"r2":4},{"d":24.7,"d2":15.3,"r":6,"r2":6},{"d":2.3,"d2":2.3,"r":3.5,"r2":4.5},{"d":2.3,"d2":0,"r":3.5,"r2":3.5},{"d":2.3,"d2":0,"r":4.5,"r2":4.5},{"d":15.3,"d2":15.3,"r":5.5,"r2":6.5},{"d":15.3,"d2":0,"r":5.5,"r2":5.5},{"d":15.3,"d2":0,"r":6.5,"r2":6.5}],
"bs":[{"c":"BG","mean":1.7,"lo":0.6,"hi":2.75},{"c":"AG","mean":1.6,"lo":0.52,"hi":2.62},{"c":"AGP","mean":1.05,"lo":0.15,"hi":1.95},{"c":"AGA","mean":2.65,"lo":1.27,"hi":3.97}],
"bp":[{"c":"BG","j":-2,"v":3.15},{"c":"BG","j":-1,"v":3.05},{"c":"BG","j":0,"v":2.8},{"c":"BG","j":1,"v":2.95},{"c":"BG","j":2,"v":3.15},{"c":"BG","j":-1.4,"v":2.35},{"c":"BG","j":0,"v":2.25},{"c":"BG","j":0.7,"v":2.2},{"c":"BG","j":1.4,"v":2.45},{"c":"BG","j":-0.7,"v":1.75},{"c":"BG","j":-2,"v":1.15},{"c":"BG","j":-1,"v":1.1},{"c":"BG","j":0,"v":1},{"c":"BG","j":1,"v":1.1},{"c":"BG","j":2,"v":1.25},{"c":"BG","j":-2,"v":0.35},{"c":"BG","j":-1,"v":0.28},{"c":"BG","j":0,"v":0.25},{"c":"BG","j":1,"v":0.28},{"c":"BG","j":2,"v":0.3},
{"c":"AG","j":0,"v":3.55},{"c":"AG","j":0,"v":3},{"c":"AG","j":-1.39,"v":2.75},{"c":"AG","j":1.35,"v":2.8},{"c":"AG","j":0,"v":2.35},{"c":"AG","j":1.35,"v":2.15},{"c":"AG","j":-1.39,"v":1.85},{"c":"AG","j":-2,"v":1.7},{"c":"AG","j":-0.65,"v":1.7},{"c":"AG","j":0.71,"v":1.75},{"c":"AG","j":-1.29,"v":1.6},{"c":"AG","j":0,"v":1.45},{"c":"AG","j":-0.65,"v":1.4},{"c":"AG","j":0.65,"v":1.45},{"c":"AG","j":1.61,"v":1.6},{"c":"AG","j":-2.1,"v":0.12},{"c":"AG","j":-0.97,"v":0.1},{"c":"AG","j":0,"v":0.1},{"c":"AG","j":0.97,"v":0.1},{"c":"AG","j":2,"v":0.12},
{"c":"AGP","j":0,"v":3.4},{"c":"AGP","j":-0.7,"v":2.5},{"c":"AGP","j":0.68,"v":2.5},{"c":"AGP","j":1.39,"v":2.05},{"c":"AGP","j":-1.39,"v":1.75},{"c":"AGP","j":0,"v":1.65},{"c":"AGP","j":-2.06,"v":1.5},{"c":"AGP","j":0.68,"v":1.45},{"c":"AGP","j":2.03,"v":1.55},{"c":"AGP","j":-0.7,"v":1.15},{"c":"AGP","j":-2.06,"v":0.85},{"c":"AGP","j":2.03,"v":0.85},{"c":"AGP","j":-0.7,"v":0.65},{"c":"AGP","j":0.68,"v":0.5},{"c":"AGP","j":-1.9,"v":0.38},{"c":"AGP","j":-1.35,"v":0.32},{"c":"AGP","j":-0.7,"v":0.27},{"c":"AGP","j":1.39,"v":0.3},{"c":"AGP","j":2.03,"v":0.38},{"c":"AGP","j":0.68,"v":0.25},{"c":"AGP","j":0,"v":0.4},{"c":"AGP","j":-0.7,"v":0.08},{"c":"AGP","j":0,"v":-0.03},{"c":"AGP","j":0.68,"v":0.05},{"c":"AGP","j":-1.35,"v":0.13},
{"c":"AGA","j":0.71,"v":5.8},{"c":"AGA","j":-0.68,"v":5.4},{"c":"AGA","j":-2.03,"v":4.45},{"c":"AGA","j":-0.68,"v":4.25},{"c":"AGA","j":0.68,"v":4.15},{"c":"AGA","j":2.06,"v":4.3},{"c":"AGA","j":0.68,"v":3.35},{"c":"AGA","j":-0.68,"v":3},{"c":"AGA","j":1.35,"v":2.7},{"c":"AGA","j":-1.39,"v":2.45},{"c":"AGA","j":0.06,"v":2.45},{"c":"AGA","j":-2.03,"v":2.2},{"c":"AGA","j":1.94,"v":2.2},{"c":"AGA","j":-1.23,"v":2.1},{"c":"AGA","j":1.35,"v":2},{"c":"AGA","j":-0.58,"v":1.9},{"c":"AGA","j":0.06,"v":1.85},{"c":"AGA","j":0.71,"v":1.8},{"c":"AGA","j":-1.39,"v":1.6},{"c":"AGA","j":-0.68,"v":1.55},{"c":"AGA","j":1.35,"v":1.6},{"c":"AGA","j":0.06,"v":1.7},{"c":"AGA","j":-0.42,"v":1.3},{"c":"AGA","j":0.55,"v":1.3},{"c":"AGA","j":0,"v":0.6}],
"bk":[{"b":1,"k":0,"c":"BG","j":-0.77,"v":7.67},{"b":1,"k":1,"c":"BG","j":-0.77,"v":8},{"b":1,"k":2,"c":"AG","j":-0.87,"v":8},{"b":1,"k":3,"c":"AG","j":-0.87,"v":7.67},{"b":2,"k":0,"c":"AG","j":-0.38,"v":7.67},{"b":2,"k":1,"c":"AG","j":-0.38,"v":8},{"b":2,"k":2,"c":"AGP","j":-0.48,"v":8},{"b":2,"k":3,"c":"AGP","j":-0.48,"v":7.67},{"b":3,"k":0,"c":"AGP","j":0.48,"v":7.67},{"b":3,"k":1,"c":"AGP","j":0.48,"v":8},{"b":3,"k":2,"c":"AGA","j":0.38,"v":8},{"b":3,"k":3,"c":"AGA","j":0.38,"v":7.67}],
"bt":[{"c":"BG","j":3.3,"v":8.2,"t":"ns","z":19},{"c":"AG","j":3.56,"v":7.8,"t":"*","z":26},{"c":"AGP","j":4.42,"v":7.8,"t":"***","z":26}],
"cs":[{"c":"BG","mean":0.88,"lo":0.4,"hi":1.12},{"c":"AG","mean":0.65,"lo":0,"hi":1.36},{"c":"AGP","mean":0.07,"lo":0.04,"hi":0.1},{"c":"AGA","mean":1.48,"lo":0.39,"hi":2.52}],
"cp":[{"c":"BG","j":0.71,"v":1.42},{"c":"BG","j":-0.65,"v":1.35},{"c":"BG","j":-1.45,"v":1.3},{"c":"BG","j":1.35,"v":1.33},{"c":"BG","j":-0.48,"v":1.17},{"c":"BG","j":0.48,"v":1.2},{"c":"BG","j":-2,"v":1.03},{"c":"BG","j":2,"v":1.03},{"c":"BG","j":1.29,"v":0.95},{"c":"BG","j":-1.23,"v":0.87},{"c":"BG","j":-0.48,"v":0.76},{"c":"BG","j":0.65,"v":0.76},{"c":"BG","j":0,"v":0.74},{"c":"BG","j":-2,"v":0.7},{"c":"BG","j":2,"v":0.66},{"c":"BG","j":-1.35,"v":0.49},{"c":"BG","j":-0.65,"v":0.4},{"c":"BG","j":0.71,"v":0.4},{"c":"BG","j":1.35,"v":0.4},{"c":"BG","j":0,"v":0.34},
{"c":"AG","j":0,"v":2.07},{"c":"AG","j":-2,"v":1.86},{"c":"AG","j":2.06,"v":1.87},{"c":"AG","j":-0.65,"v":1.52},{"c":"AG","j":0.68,"v":1.6},{"c":"AG","j":-1.35,"v":0.76},{"c":"AG","j":0,"v":0.7},{"c":"AG","j":1.39,"v":0.85},{"c":"AG","j":-2.1,"v":0.24},{"c":"AG","j":-0.65,"v":0.26},{"c":"AG","j":0.68,"v":0.26},{"c":"AG","j":2.1,"v":0.22},{"c":"AG","j":1.39,"v":0.17},{"c":"AG","j":-1.84,"v":-0.02},{"c":"AG","j":-1.2,"v":-0.03},{"c":"AG","j":-0.55,"v":-0.04},{"c":"AG","j":0,"v":-0.04},{"c":"AG","j":0.58,"v":-0.04},{"c":"AG","j":1.23,"v":-0.02},{"c":"AG","j":-1.35,"v":0.07},
{"c":"AGP","j":-1.85,"v":0.22},{"c":"AGP","j":1.85,"v":0.22},{"c":"AGP","j":-2.2,"v":0.1},{"c":"AGP","j":2.3,"v":0.09},{"c":"AGP","j":-1.5,"v":0.12},{"c":"AGP","j":1.5,"v":0.12},{"c":"AGP","j":-1.2,"v":0.08},{"c":"AGP","j":1.2,"v":0.08},{"c":"AGP","j":-0.9,"v":0.05},{"c":"AGP","j":0.9,"v":0.05},{"c":"AGP","j":-0.6,"v":0.04},{"c":"AGP","j":0.6,"v":0.04},{"c":"AGP","j":-0.3,"v":0.03},{"c":"AGP","j":0.3,"v":0.03},{"c":"AGP","j":0,"v":0.03},{"c":"AGP","j":-1.5,"v":0.06},{"c":"AGP","j":1.5,"v":0.06},{"c":"AGP","j":-1,"v":0.04},{"c":"AGP","j":1,"v":0.04},{"c":"AGP","j":-0.5,"v":0.02},{"c":"AGP","j":0.5,"v":0.02},{"c":"AGP","j":-0.2,"v":0.02},{"c":"AGP","j":0.2,"v":0.02},{"c":"AGP","j":-1.2,"v":0.03},{"c":"AGP","j":1.2,"v":0.03},
{"c":"AGA","j":0,"v":4.18},{"c":"AGA","j":0,"v":3.62},{"c":"AGA","j":-1.35,"v":2.97},{"c":"AGA","j":1.39,"v":2.85},{"c":"AGA","j":0,"v":2.8},{"c":"AGA","j":0,"v":2.14},{"c":"AGA","j":2.03,"v":1.98},{"c":"AGA","j":-2,"v":1.82},{"c":"AGA","j":0.68,"v":1.8},{"c":"AGA","j":-0.68,"v":1.65},{"c":"AGA","j":-2,"v":1.02},{"c":"AGA","j":-0.68,"v":0.95},{"c":"AGA","j":0.68,"v":0.87},{"c":"AGA","j":2.03,"v":0.95},{"c":"AGA","j":-1.7,"v":0.83},{"c":"AGA","j":1.74,"v":0.77},{"c":"AGA","j":-1.32,"v":0.7},{"c":"AGA","j":1.32,"v":0.7},{"c":"AGA","j":-0.84,"v":0.62},{"c":"AGA","j":0.94,"v":0.62},{"c":"AGA","j":-0.52,"v":0.53},{"c":"AGA","j":0.45,"v":0.53},{"c":"AGA","j":0,"v":0.49},{"c":"AGA","j":-0.35,"v":0.6},{"c":"AGA","j":0.29,"v":0.6}],
"ck":[{"b":1,"k":0,"c":"BG","j":-1.15,"v":4.74},{"b":1,"k":1,"c":"BG","j":-1.15,"v":4.99},{"b":1,"k":2,"c":"AG","j":-1.15,"v":4.99},{"b":1,"k":3,"c":"AG","j":-1.15,"v":4.74},{"b":2,"k":0,"c":"AG","j":-0.38,"v":4.74},{"b":2,"k":1,"c":"AG","j":-0.38,"v":4.99},{"b":2,"k":2,"c":"AGP","j":-0.48,"v":4.99},{"b":2,"k":3,"c":"AGP","j":-0.48,"v":4.74},{"b":3,"k":0,"c":"AGP","j":0.1,"v":4.74},{"b":3,"k":1,"c":"AGP","j":0.1,"v":4.99},{"b":3,"k":2,"c":"AGA","j":0,"v":4.99},{"b":3,"k":3,"c":"AGA","j":0,"v":4.74}],
"ct":[{"c":"BG","j":2.98,"v":5.12,"t":"ns","z":19},{"c":"AG","j":3.56,"v":4.82,"t":"*","z":26},{"c":"AGP","j":3.94,"v":4.82,"t":"***","z":26}],
"ds":[{"c":"BG","mean":0.31,"lo":0.05,"hi":0.56},{"c":"AG","mean":0.38,"lo":0.06,"hi":0.7},{"c":"AGP","mean":0.22,"lo":-0.1,"hi":0.52},{"c":"AGA","mean":0.85,"lo":0.35,"hi":1.35}],
"dp":[{"c":"BG","j":0,"v":0.9},{"c":"BG","j":-0.65,"v":0.75},{"c":"BG","j":0.71,"v":0.63},{"c":"BG","j":-2,"v":0.53},{"c":"BG","j":-0.97,"v":0.42},{"c":"BG","j":0,"v":0.37},{"c":"BG","j":1.03,"v":0.42},{"c":"BG","j":2.48,"v":0.43},{"c":"BG","j":1.94,"v":0.36},{"c":"BG","j":-2,"v":0.28},{"c":"BG","j":-0.97,"v":0.2},{"c":"BG","j":0,"v":0.19},{"c":"BG","j":1.03,"v":0.21},{"c":"BG","j":-2,"v":0.17},{"c":"BG","j":-1.29,"v":0.01},{"c":"BG","j":-0.65,"v":0},{"c":"BG","j":0,"v":0},{"c":"BG","j":0.65,"v":0},{"c":"BG","j":1.35,"v":0.01},{"c":"BG","j":2,"v":0.05},
{"c":"AG","j":0.68,"v":1.03},{"c":"AG","j":-1.35,"v":0.89},{"c":"AG","j":-0.65,"v":0.85},{"c":"AG","j":0.68,"v":0.7},{"c":"AG","j":-2.03,"v":0.54},{"c":"AG","j":-1.03,"v":0.52},{"c":"AG","j":0,"v":0.49},{"c":"AG","j":1,"v":0.51},{"c":"AG","j":2.03,"v":0.53},{"c":"AG","j":2.03,"v":0.35},{"c":"AG","j":-2.03,"v":0.25},{"c":"AG","j":-1.03,"v":0.21},{"c":"AG","j":0,"v":0.21},{"c":"AG","j":1,"v":0.24},{"c":"AG","j":-1.35,"v":0},{"c":"AG","j":-0.71,"v":0},{"c":"AG","j":0,"v":0},{"c":"AG","j":0.65,"v":0},{"c":"AG","j":1.39,"v":0},{"c":"AG","j":-1.03,"v":0.02},
{"c":"AGP","j":0,"v":1.2},{"c":"AGP","j":0.68,"v":0.89},{"c":"AGP","j":-0.68,"v":0.73},{"c":"AGP","j":1.97,"v":0.41},{"c":"AGP","j":-2.03,"v":0.34},{"c":"AGP","j":0.97,"v":0.3},{"c":"AGP","j":-1.03,"v":0.26},{"c":"AGP","j":0,"v":0.25},{"c":"AGP","j":-1.9,"v":0.1},{"c":"AGP","j":1.8,"v":0.08},{"c":"AGP","j":-1.58,"v":0.07},{"c":"AGP","j":1.48,"v":0.06},{"c":"AGP","j":-1.26,"v":0.04},{"c":"AGP","j":1.16,"v":0.03},{"c":"AGP","j":-0.94,"v":0.02},{"c":"AGP","j":0.84,"v":0.01},{"c":"AGP","j":-0.61,"v":0},{"c":"AGP","j":0.52,"v":0},{"c":"AGP","j":-0.29,"v":-0.01},{"c":"AGP","j":0.19,"v":-0.01},{"c":"AGP","j":0,"v":-0.01},{"c":"AGP","j":-1.1,"v":0.05},{"c":"AGP","j":1.06,"v":0.05},{"c":"AGP","j":-1.58,"v":0.1},{"c":"AGP","j":1.55,"v":0.1},
{"c":"AGA","j":0.71,"v":1.96},{"c":"AGA","j":-0.68,"v":1.92},{"c":"AGA","j":0,"v":1.4},{"c":"AGA","j":1.39,"v":1.26},{"c":"AGA","j":-1.35,"v":1.12},{"c":"AGA","j":-0.71,"v":1.11},{"c":"AGA","j":0.71,"v":1.1},{"c":"AGA","j":1.39,"v":1.03},{"c":"AGA","j":-1.35,"v":1.06},{"c":"AGA","j":-0.65,"v":0.96},{"c":"AGA","j":0,"v":0.96},{"c":"AGA","j":0.65,"v":0.92},{"c":"AGA","j":-1.35,"v":0.84},{"c":"AGA","j":1.39,"v":0.89},{"c":"AGA","j":0,"v":0.82},{"c":"AGA","j":-0.48,"v":0.73},{"c":"AGA","j":0.48,"v":0.8},{"c":"AGA","j":-2,"v":0.54},{"c":"AGA","j":2,"v":0.54},{"c":"AGA","j":-0.97,"v":0.43},{"c":"AGA","j":0,"v":0.44},{"c":"AGA","j":0.97,"v":0.48},{"c":"AGA","j":-1.35,"v":0},{"c":"AGA","j":0,"v":0},{"c":"AGA","j":1.39,"v":0}],
"dk":[{"b":1,"k":0,"c":"BG","j":-1.15,"v":2.36},{"b":1,"k":1,"c":"BG","j":-1.15,"v":2.49},{"b":1,"k":2,"c":"AG","j":-1.15,"v":2.49},{"b":1,"k":3,"c":"AG","j":-1.15,"v":2.36},{"b":2,"k":0,"c":"AG","j":-0.3,"v":2.36},{"b":2,"k":1,"c":"AG","j":-0.3,"v":2.49},{"b":2,"k":2,"c":"AGP","j":-0.38,"v":2.49},{"b":2,"k":3,"c":"AGP","j":-0.38,"v":2.36},{"b":3,"k":0,"c":"AGP","j":0.48,"v":2.36},{"b":3,"k":1,"c":"AGP","j":0.48,"v":2.49},{"b":3,"k":2,"c":"AGA","j":0.38,"v":2.49},{"b":3,"k":3,"c":"AGA","j":0.38,"v":2.36}],
"dt":[{"c":"BG","j":3.08,"v":2.55,"t":"ns","z":19},{"c":"AG","j":3.65,"v":2.41,"t":"***","z":26},{"c":"AGP","j":4.33,"v":2.41,"t":"***","z":26}],
"es":[{"c":"BG","mean":0.103,"lo":0.04,"hi":0.162},{"c":"AG","mean":0.13,"lo":0.014,"hi":0.246},{"c":"AGP","mean":0.033,"lo":0.005,"hi":0.06},{"c":"AGA","mean":0.085,"lo":0.045,"hi":0.122}],
"ep":[{"c":"BG","j":0,"v":0.19},{"c":"BG","j":-2,"v":0.17},{"c":"BG","j":2.13,"v":0.168},{"c":"BG","j":-1.32,"v":0.15},{"c":"BG","j":0,"v":0.153},{"c":"BG","j":1.42,"v":0.152},{"c":"BG","j":-2,"v":0.129},{"c":"BG","j":0,"v":0.13},{"c":"BG","j":2.06,"v":0.123},{"c":"BG","j":-0.97,"v":0.114},{"c":"BG","j":0,"v":0.106},{"c":"BG","j":1.03,"v":0.109},{"c":"BG","j":-2,"v":0.087},{"c":"BG","j":2.06,"v":0.08},{"c":"BG","j":-0.65,"v":0.072},{"c":"BG","j":0.71,"v":0.064},{"c":"BG","j":-2,"v":0},{"c":"BG","j":-0.65,"v":0},{"c":"BG","j":0.71,"v":0},{"c":"BG","j":2.06,"v":0},
{"c":"AG","j":-0.68,"v":0.31},{"c":"AG","j":0.71,"v":0.304},{"c":"AG","j":-1.35,"v":0.271},{"c":"AG","j":1.39,"v":0.26},{"c":"AG","j":0,"v":0.25},{"c":"AG","j":-0.68,"v":0.231},{"c":"AG","j":0.71,"v":0.215},{"c":"AG","j":-1.35,"v":0.185},{"c":"AG","j":0,"v":0.166},{"c":"AG","j":1.39,"v":0.168},{"c":"AG","j":2.03,"v":0.05},{"c":"AG","j":-2.03,"v":0.038},{"c":"AG","j":-1,"v":0.033},{"c":"AG","j":0,"v":0.03},{"c":"AG","j":1,"v":0.035},{"c":"AG","j":-1.97,"v":0.002},{"c":"AG","j":-0.9,"v":0.001},{"c":"AG","j":0,"v":0.001},{"c":"AG","j":1,"v":0.001},{"c":"AG","j":2.03,"v":0},
{"c":"AGP","j":0,"v":0.093},{"c":"AGP","j":-2.03,"v":0.076},{"c":"AGP","j":2.03,"v":0.077},{"c":"AGP","j":0.71,"v":0.066},{"c":"AGP","j":-0.68,"v":0.053},{"c":"AGP","j":-0.68,"v":0.044},{"c":"AGP","j":-1.61,"v":0.044},{"c":"AGP","j":0,"v":0.036},{"c":"AGP","j":1.45,"v":0.033},{"c":"AGP","j":-0.97,"v":0.03},{"c":"AGP","j":0,"v":0.027},{"c":"AGP","j":0.65,"v":0.027},{"c":"AGP","j":-2.1,"v":0.016},{"c":"AGP","j":2.1,"v":0.016},{"c":"AGP","j":-1.29,"v":0.016},{"c":"AGP","j":1.13,"v":0.019},{"c":"AGP","j":-0.65,"v":0.022},{"c":"AGP","j":-1.61,"v":0.005},{"c":"AGP","j":-0.81,"v":0.002},{"c":"AGP","j":0,"v":-0.001},{"c":"AGP","j":0.97,"v":0.002},{"c":"AGP","j":1.61,"v":0.005},{"c":"AGP","j":-2.42,"v":0.002},{"c":"AGP","j":2.1,"v":0.003},{"c":"AGP","j":0,"v":0.013},
{"c":"AGA","j":-1.35,"v":0.157},{"c":"AGA","j":1.39,"v":0.141},{"c":"AGA","j":0,"v":0.136},{"c":"AGA","j":-0.68,"v":0.128},{"c":"AGA","j":0.71,"v":0.125},{"c":"AGA","j":-1.35,"v":0.118},{"c":"AGA","j":1.42,"v":0.116},{"c":"AGA","j":0,"v":0.114},{"c":"AGA","j":-2.03,"v":0.093},{"c":"AGA","j":2.03,"v":0.095},{"c":"AGA","j":-0.68,"v":0.085},{"c":"AGA","j":0.68,"v":0.089},{"c":"AGA","j":-1.65,"v":0.067},{"c":"AGA","j":-0.68,"v":0.067},{"c":"AGA","j":1.1,"v":0.064},{"c":"AGA","j":1.74,"v":0.061},{"c":"AGA","j":-1.16,"v":0.058},{"c":"AGA","j":-0.19,"v":0.053},{"c":"AGA","j":0.29,"v":0.053},{"c":"AGA","j":0.77,"v":0.055},{"c":"AGA","j":-2,"v":0.033},{"c":"AGA","j":2.1,"v":0.034},{"c":"AGA","j":-0.68,"v":0.027},{"c":"AGA","j":0.68,"v":0.027},{"c":"AGA","j":0,"v":0.05}],
"ek":[{"b":1,"k":0,"c":"BG","j":-0.58,"v":0.381},{"b":1,"k":1,"c":"BG","j":-0.58,"v":0.397},{"b":1,"k":2,"c":"AG","j":-0.77,"v":0.397},{"b":1,"k":3,"c":"AG","j":-0.77,"v":0.381},{"b":2,"k":0,"c":"AG","j":0.1,"v":0.381},{"b":2,"k":1,"c":"AG","j":0.1,"v":0.397},{"b":2,"k":2,"c":"AGP","j":0.1,"v":0.397},{"b":2,"k":3,"c":"AGP","j":0.1,"v":0.381},{"b":3,"k":0,"c":"AGP","j":0.96,"v":0.381},{"b":3,"k":1,"c":"AGP","j":0.96,"v":0.397},{"b":3,"k":2,"c":"AGA","j":0.87,"v":0.397},{"b":3,"k":3,"c":"AGA","j":0.87,"v":0.381}],
"et":[{"c":"BG","j":3.27,"v":0.405,"t":"ns","z":19},{"c":"AG","j":4.04,"v":0.388,"t":"*","z":26},{"c":"AGP","j":4.9,"v":0.388,"t":"*","z":26}],
"fs":[{"c":"BG","mean":0.15,"lo":0.02,"hi":0.268},{"c":"AG","mean":0.165,"lo":0,"hi":0.337},{"c":"AGP","mean":0.012,"lo":0.002,"hi":0.022},{"c":"AGA","mean":0.1,"lo":0.04,"hi":0.16}],
"fp":[{"c":"BG","j":-0.68,"v":0.377},{"c":"BG","j":1.42,"v":0.352},{"c":"BG","j":0.71,"v":0.32},{"c":"BG","j":-1.35,"v":0.276},{"c":"BG","j":-0.68,"v":0.25},{"c":"BG","j":1.42,"v":0.225},{"c":"BG","j":0.71,"v":0.182},{"c":"BG","j":-1.35,"v":0.155},{"c":"BG","j":-0.68,"v":0.13},{"c":"BG","j":0.71,"v":0.133},{"c":"BG","j":-1.35,"v":0.12},{"c":"BG","j":-0.45,"v":0.105},{"c":"BG","j":0.45,"v":0.1},{"c":"BG","j":1.35,"v":0.11},{"c":"BG","j":0.71,"v":0.041},{"c":"BG","j":-0.68,"v":0.015},{"c":"BG","j":-1.35,"v":0},{"c":"BG","j":-0.45,"v":0},{"c":"BG","j":0.45,"v":0},{"c":"BG","j":1.35,"v":0},
{"c":"AG","j":-0.68,"v":0.476},{"c":"AG","j":0.71,"v":0.478},{"c":"AG","j":-1.39,"v":0.366},{"c":"AG","j":1.39,"v":0.367},{"c":"AG","j":0,"v":0.34},{"c":"AG","j":-2.03,"v":0.253},{"c":"AG","j":2.03,"v":0.264},{"c":"AG","j":-0.68,"v":0.225},{"c":"AG","j":0.71,"v":0.23},{"c":"AG","j":0,"v":0.175},{"c":"AG","j":-2.03,"v":0.002},{"c":"AG","j":-1.39,"v":0.001},{"c":"AG","j":-0.68,"v":0},{"c":"AG","j":0,"v":-0.004},{"c":"AG","j":0.71,"v":0},{"c":"AG","j":1.39,"v":0.001},{"c":"AG","j":2.03,"v":0.003},{"c":"AG","j":-1.06,"v":-0.007},{"c":"AG","j":0.39,"v":-0.007},{"c":"AG","j":1.03,"v":0.01},
{"c":"AGP","j":-1.8,"v":0.038},{"c":"AGP","j":1.84,"v":0.038},{"c":"AGP","j":-1.6,"v":0.015},{"c":"AGP","j":1.6,"v":0.015},{"c":"AGP","j":-2,"v":0.012},{"c":"AGP","j":2,"v":0.012},{"c":"AGP","j":-1.6,"v":0.01},{"c":"AGP","j":1.6,"v":0.01},{"c":"AGP","j":-1.3,"v":0.008},{"c":"AGP","j":1.3,"v":0.008},{"c":"AGP","j":-1,"v":0.006},{"c":"AGP","j":1,"v":0.006},{"c":"AGP","j":-0.7,"v":0.004},{"c":"AGP","j":0.7,"v":0.004},{"c":"AGP","j":-0.4,"v":0.002},{"c":"AGP","j":0.4,"v":0.002},{"c":"AGP","j":-0.2,"v":0.001},{"c":"AGP","j":0.2,"v":0.001},{"c":"AGP","j":0,"v":0},{"c":"AGP","j":0,"v":0.01},{"c":"AGP","j":-0.5,"v":0.012},{"c":"AGP","j":0.5,"v":0.012},{"c":"AGP","j":-1,"v":0.014},{"c":"AGP","j":1,"v":0.014},{"c":"AGP","j":-1.5,"v":0.004},
{"c":"AGA","j":-0.68,"v":0.261},{"c":"AGA","j":0.68,"v":0.233},{"c":"AGA","j":2.03,"v":0.181},{"c":"AGA","j":-2.03,"v":0.164},{"c":"AGA","j":0.65,"v":0.158},{"c":"AGA","j":-0.71,"v":0.144},{"c":"AGA","j":-2.03,"v":0.13},{"c":"AGA","j":2,"v":0.136},{"c":"AGA","j":-1.03,"v":0.1},{"c":"AGA","j":-0.06,"v":0.1},{"c":"AGA","j":1,"v":0.105},{"c":"AGA","j":-0.65,"v":0.068},{"c":"AGA","j":0.58,"v":0.088},{"c":"AGA","j":-2.16,"v":0.06},{"c":"AGA","j":2.19,"v":0.06},{"c":"AGA","j":-1.68,"v":0.049},{"c":"AGA","j":1.71,"v":0.049},{"c":"AGA","j":-1.19,"v":0.043},{"c":"AGA","j":1.23,"v":0.043},{"c":"AGA","j":-0.55,"v":0.04},{"c":"AGA","j":0.58,"v":0.04},{"c":"AGA","j":0,"v":0.038},{"c":"AGA","j":-2.16,"v":0.071},{"c":"AGA","j":2.19,"v":0.071},{"c":"AGA","j":-1.5,"v":0.063}],
"fk":[{"b":1,"k":0,"c":"BG","j":-0.29,"v":0.56},{"b":1,"k":1,"c":"BG","j":-0.29,"v":0.59},{"b":1,"k":2,"c":"AG","j":-0.29,"v":0.59},{"b":1,"k":3,"c":"AG","j":-0.29,"v":0.56},{"b":2,"k":0,"c":"AG","j":0.58,"v":0.56},{"b":2,"k":1,"c":"AG","j":0.58,"v":0.59},{"b":2,"k":2,"c":"AGP","j":0.48,"v":0.59},{"b":2,"k":3,"c":"AGP","j":0.48,"v":0.56},{"b":3,"k":0,"c":"AGP","j":1.25,"v":0.56},{"b":3,"k":1,"c":"AGP","j":1.25,"v":0.59},{"b":3,"k":2,"c":"AGA","j":1.25,"v":0.59},{"b":3,"k":3,"c":"AGA","j":1.25,"v":0.56}],
"ft":[{"c":"BG","j":3.75,"v":0.61,"t":"ns","z":19},{"c":"AG","j":4.6,"v":0.61,"t":"ns","z":19},{"c":"AGP","j":5.1,"v":0.61,"t":"ns","z":19}],
"gs":[{"c":"BG","mean":0.0205,"lo":0.003,"hi":0.0378},{"c":"AG","mean":0.011,"lo":0.001,"hi":0.021},{"c":"AGP","mean":0.0035,"lo":0.001,"hi":0.006},{"c":"AGA","mean":0.0102,"lo":-0.0065,"hi":0.026}],
"gp":[{"c":"BG","j":0,"v":0.066},{"c":"BG","j":0,"v":0.045},{"c":"BG","j":0.71,"v":0.037},{"c":"BG","j":-0.65,"v":0.035},{"c":"BG","j":-2,"v":0.032},{"c":"BG","j":-0.65,"v":0.031},{"c":"BG","j":2.03,"v":0.0316},{"c":"BG","j":0.71,"v":0.0276},{"c":"BG","j":0.71,"v":0.0236},{"c":"BG","j":-0.65,"v":0.018},{"c":"BG","j":-2,"v":0.009},{"c":"BG","j":2.03,"v":0.0103},{"c":"BG","j":-0.97,"v":0.0078},{"c":"BG","j":0,"v":0.0078},{"c":"BG","j":1.03,"v":0.0085},{"c":"BG","j":-2,"v":0.0015},{"c":"BG","j":-0.97,"v":0.0014},{"c":"BG","j":0,"v":0.0011},{"c":"BG","j":1.03,"v":0.0011},{"c":"BG","j":2.03,"v":0.0015},
{"c":"AG","j":-0.68,"v":0.0357},{"c":"AG","j":0.68,"v":0.034},{"c":"AG","j":-0.65,"v":0.019},{"c":"AG","j":0.68,"v":0.0186},{"c":"AG","j":2.03,"v":0.019},{"c":"AG","j":-1.35,"v":0.0162},{"c":"AG","j":-2,"v":0.0131},{"c":"AG","j":-0.65,"v":0.0123},{"c":"AG","j":2.03,"v":0.0127},{"c":"AG","j":0.68,"v":0.0098},{"c":"AG","j":0.68,"v":0.005},{"c":"AG","j":-2,"v":0.0022},{"c":"AG","j":-1.35,"v":0.002},{"c":"AG","j":-0.65,"v":0.0022},{"c":"AG","j":0,"v":0.0015},{"c":"AG","j":0.68,"v":0.0022},{"c":"AG","j":1.39,"v":0.002},{"c":"AG","j":2.03,"v":0.0022},{"c":"AG","j":-1.03,"v":0.0008},{"c":"AG","j":1.06,"v":0.0008},
{"c":"AGP","j":0,"v":0.0117},{"c":"AGP","j":-0.97,"v":0.006},{"c":"AGP","j":0.84,"v":0.0064},{"c":"AGP","j":-2.06,"v":0.0042},{"c":"AGP","j":2.13,"v":0.0043},{"c":"AGP","j":-0.39,"v":0.005},{"c":"AGP","j":0.32,"v":0.005},{"c":"AGP","j":-1.58,"v":0.0034},{"c":"AGP","j":1.65,"v":0.0034},{"c":"AGP","j":-1.1,"v":0.003},{"c":"AGP","j":1.16,"v":0.003},{"c":"AGP","j":-0.61,"v":0.0025},{"c":"AGP","j":0.68,"v":0.0025},{"c":"AGP","j":0,"v":0.0022},{"c":"AGP","j":-2.39,"v":0.002},{"c":"AGP","j":2.45,"v":0.002},{"c":"AGP","j":-1.9,"v":0.002},{"c":"AGP","j":1.97,"v":0.002},{"c":"AGP","j":-1.42,"v":0.0015},{"c":"AGP","j":1.42,"v":0.0015},{"c":"AGP","j":-0.77,"v":0.001},{"c":"AGP","j":0.77,"v":0.001},{"c":"AGP","j":0,"v":0.0006},{"c":"AGP","j":-0.45,"v":0.0006},{"c":"AGP","j":0.45,"v":0.0006},
{"c":"AGA","j":0,"v":0.0578},{"c":"AGA","j":-0.68,"v":0.045},{"c":"AGA","j":0.71,"v":0.0393},{"c":"AGA","j":0.71,"v":0.0302},{"c":"AGA","j":-0.68,"v":0.0285},{"c":"AGA","j":0,"v":0.0098},{"c":"AGA","j":-2.26,"v":0.0042},{"c":"AGA","j":2.26,"v":0.0042},{"c":"AGA","j":-1.94,"v":0.003},{"c":"AGA","j":1.94,"v":0.003},{"c":"AGA","j":-1.61,"v":0.0022},{"c":"AGA","j":1.61,"v":0.0022},{"c":"AGA","j":-1.29,"v":0.0015},{"c":"AGA","j":1.29,"v":0.0015},{"c":"AGA","j":-0.97,"v":0.0011},{"c":"AGA","j":0.97,"v":0.0011},{"c":"AGA","j":-0.65,"v":0.0008},{"c":"AGA","j":0.65,"v":0.0008},{"c":"AGA","j":-0.32,"v":0.0006},{"c":"AGA","j":0.32,"v":0.0006},{"c":"AGA","j":0,"v":0.0006},{"c":"AGA","j":-2.58,"v":0.0036},{"c":"AGA","j":2.58,"v":0.0036},{"c":"AGA","j":-1.77,"v":0.0036},{"c":"AGA","j":1.77,"v":0.0036}],
"gk":[{"b":1,"k":0,"c":"BG","j":-0.1,"v":0.0754},{"b":1,"k":1,"c":"BG","j":-0.1,"v":0.0792},{"b":1,"k":2,"c":"AG","j":-0.2,"v":0.0792},{"b":1,"k":3,"c":"AG","j":-0.2,"v":0.0754},{"b":2,"k":0,"c":"AG","j":0.3,"v":0.0754},{"b":2,"k":1,"c":"AG","j":0.3,"v":0.0792},{"b":2,"k":2,"c":"AGP","j":-0.3,"v":0.0792},{"b":2,"k":3,"c":"AGP","j":-0.3,"v":0.0754},{"b":3,"k":0,"c":"AGP","j":0.3,"v":0.0754},{"b":3,"k":1,"c":"AGP","j":0.3,"v":0.0792},{"b":3,"k":2,"c":"AGA","j":-0.2,"v":0.0792},{"b":3,"k":3,"c":"AGA","j":-0.2,"v":0.0754}],
"gt":[{"c":"BG","j":3.85,"v":0.0817,"t":"ns","z":19},{"c":"AG","j":3.94,"v":0.0817,"t":"ns","z":19},{"c":"AGP","j":4.04,"v":0.0817,"t":"ns","z":19}],
"zero":[{"z":0}]
},
"vconcat":[
{"bounds":"flush","spacing":0,"hconcat":[
{"width":53,"height":10,"data":{"name":"zero"},"mark":{"type":"point","opacity":0},"encoding":{}},
{"width":1105,"height":421,"title":{"text":"A","dx":-143,"dy":27},"resolve":{"scale":{"x":"independent","y":"independent"}},"layer":[
{"data":{"name":"heat"},"mark":{"type":"rect","stroke":"#a3a3a3","strokeWidth":0.9,"width":12.28,"height":{"band":1}},"encoding":{"x":{"field":"s","type":"nominal","sort":null,"scale":{"type":"band","paddingInner":0,"paddingOuter":0},"axis":{"title":null,"labelAngle":-90,"labelAlign":"right","labelBaseline":"middle","labelFontSize":8,"labelFontWeight":"normal","labelColor":"#333333","labelPadding":3,"domain":false,"ticks":false}},"y":{"field":"a","type":"nominal","sort":null,"scale":{"type":"band","paddingInner":0,"paddingOuter":0},"axis":{"title":null,"orient":"right","labelFontSize":18,"labelFontWeight":"normal","labelColor":"#222222","labelPadding":2,"labelOffset":2,"domain":false,"ticks":false}},"color":{"field":"v","type":"quantitative","scale":{"domain":[-6,-5,-4,-3.5,-3,-2.5,-2,-1.5,-1,-0.5,0,0.3,0.8],"range":["#2b3492","#4b7fb9","#a9d6e8","#d6edf5","#fdfde6","#fff3a8","#fed985","#fdb163","#f6874b","#ef5330","#dd2a29","#c4202a","#a6222b"]},"legend":{"orient":"none","legendX":1283,"legendY":0,"title":null,"gradientLength":167,"gradientThickness":11,"values":[-6,-5,-4,-3,-2,-1,0],"labelFontSize":10,"labelColor":"#333333","labelOverlap":false,"labelOffset":5,"format":"d","labelExpr":"replace(datum.label,'\u2212','-')"}}}},
{"data":{"name":"dtop"},"mark":{"type":"rule","color":"#333333","strokeWidth":1},"encoding":{"x":{"field":"x","type":"quantitative","scale":{"domain":[0,90],"nice":false,"zero":false},"axis":null},"x2":{"field":"x2"},"y":{"field":"h","type":"quantitative","scale":{"domain":[0,60],"range":[0,-60],"nice":false},"axis":null},"y2":{"field":"h2"}}},
{"data":{"name":"dleft"},"mark":{"type":"rule","color":"#333333","strokeWidth":1},"encoding":{"x":{"field":"d","type":"quantitative","scale":{"domain":[0,60],"range":[0,-60],"nice":false},"axis":null},"x2":{"field":"d2"},"y":{"field":"r","type":"quantitative","scale":{"domain":[0,7],"range":[0,421],"nice":false,"zero":false},"axis":null},"y2":{"field":"r2"}}}
]}
]},
{"bounds":"flush","spacing":0,"hconcat":[
{"width":357,"height":285,"title":{"text":"B","dx":-90,"dy":47},"layer":[{"encoding":{"x":{"field":"c","type":"nominal","sort":["BG","AG","AGP","AGA"],"scale":{"type":"band","domain":["BG","AG","AGP","AGA"],"paddingInner":0.31,"paddingOuter":0.324},"axis":{"title":null}},"color":{"field":"c","type":"nominal","scale":{"domain":["BG","AG","AGP","AGA"],"range":["#f58220","#2fb34a","#8f91c9","#f47f86"]},"legend":null}},"layer":[
{"data":{"name":"bs"},"mark":{"type":"bar","filled":false,"strokeWidth":3.3,"width":57},"encoding":{"y":{"field":"mean","type":"quantitative","scale":{"domain":[0,8],"range":[285,46],"nice":false},"axis":{"title":"Acetic acid (mg/g)","values":[0,2,4,6,8],"format":"d"}}}},
{"data":{"name":"bs"},"mark":{"type":"rule","strokeWidth":2.5},"encoding":{"y":{"field":"lo","type":"quantitative"},"y2":{"field":"hi"}}},
{"data":{"name":"bs"},"mark":{"type":"tick","orient":"horizontal","size":27,"thickness":2.5},"encoding":{"y":{"field":"hi","type":"quantitative"}}},
{"data":{"name":"bs"},"mark":{"type":"tick","orient":"horizontal","size":27,"thickness":2.5},"encoding":{"y":{"field":"lo","type":"quantitative"}}},
{"data":{"name":"bp"},"mark":{"type":"point","filled":true,"opacity":1,"size":105},"encoding":{"xOffset":{"field":"j","type":"quantitative","scale":{"domain":[-3,3],"range":[-2.6,59.4]}},"y":{"field":"v","type":"quantitative"},"shape":{"field":"c","type":"nominal","scale":{"domain":["BG","AG","AGP","AGA"],"range":["circle","square","triangle-up","triangle-down"]},"legend":null}}},
{"data":{"name":"bk"},"mark":{"type":"line","strokeWidth":2,"strokeCap":"square"},"encoding":{"xOffset":{"field":"j","type":"quantitative"},"y":{"field":"v","type":"quantitative"},"detail":{"field":"b"},"order":{"field":"k"},"color":{"value":"#111111"}}},
{"data":{"name":"bt"},"mark":{"type":"text","fontWeight":"normal","baseline":"alphabetic"},"encoding":{"xOffset":{"field":"j","type":"quantitative"},"y":{"field":"v","type":"quantitative"},"text":{"field":"t"},"size":{"field":"z","type":"quantitative","scale":null},"color":{"value":"#111111"}}}
]}]},
{"width":129,"height":10,"data":{"name":"zero"},"mark":{"type":"point","opacity":0},"encoding":{}},
{"width":357,"height":282,"title":{"text":"C","dx":-93,"dy":47},"layer":[{"encoding":{"x":{"field":"c","type":"nominal","sort":["BG","AG","AGP","AGA"],"scale":{"type":"band","domain":["BG","AG","AGP","AGA"],"paddingInner":0.31,"paddingOuter":0.324},"axis":{"title":null}},"color":{"field":"c","type":"nominal","scale":{"domain":["BG","AG","AGP","AGA"],"range":["#f58220","#2fb34a","#8f91c9","#f47f86"]},"legend":null}},"layer":[
{"data":{"name":"cs"},"mark":{"type":"bar","filled":false,"strokeWidth":3.3,"width":57},"encoding":{"y":{"field":"mean","type":"quantitative","scale":{"domain":[-1,5],"range":[282,46],"nice":false,"zero":false},"axis":{"title":"Propionic acid (mg/g)","values":[-1,0,1,2,3,4,5],"format":"d","labelFontSize":19,"labelExpr":"replace(datum.label,'\u2212','-')"}}}},
{"data":{"name":"cs"},"mark":{"type":"rule","strokeWidth":2.5},"encoding":{"y":{"field":"lo","type":"quantitative"},"y2":{"field":"hi"}}},
{"data":{"name":"cs"},"mark":{"type":"tick","orient":"horizontal","size":27,"thickness":2.5},"encoding":{"y":{"field":"hi","type":"quantitative"}}},
{"data":{"name":"cs"},"mark":{"type":"tick","orient":"horizontal","size":27,"thickness":2.5},"encoding":{"y":{"field":"lo","type":"quantitative"}}},
{"data":{"name":"cp"},"mark":{"type":"point","filled":true,"opacity":1,"size":105},"encoding":{"xOffset":{"field":"j","type":"quantitative","scale":{"domain":[-3,3],"range":[-2.6,59.4]}},"y":{"field":"v","type":"quantitative"},"shape":{"field":"c","type":"nominal","scale":{"domain":["BG","AG","AGP","AGA"],"range":["circle","square","triangle-up","triangle-down"]},"legend":null}}},
{"data":{"name":"ck"},"mark":{"type":"line","strokeWidth":2,"strokeCap":"square"},"encoding":{"xOffset":{"field":"j","type":"quantitative"},"y":{"field":"v","type":"quantitative"},"detail":{"field":"b"},"order":{"field":"k"},"color":{"value":"#111111"}}},
{"data":{"name":"ct"},"mark":{"type":"text","fontWeight":"normal","baseline":"alphabetic"},"encoding":{"xOffset":{"field":"j","type":"quantitative"},"y":{"field":"v","type":"quantitative"},"text":{"field":"t"},"size":{"field":"z","type":"quantitative","scale":null},"color":{"value":"#111111"}}}
]},{"data":{"name":"zero"},"mark":{"type":"rule","strokeWidth":2.5,"color":"black"},"encoding":{"y":{"datum":0,"type":"quantitative"}}}]},
{"width":156,"height":10,"data":{"name":"zero"},"mark":{"type":"point","opacity":0},"encoding":{}},
{"width":357,"height":282,"title":{"text":"D","dx":-134,"dy":47},"layer":[{"encoding":{"x":{"field":"c","type":"nominal","sort":["BG","AG","AGP","AGA"],"scale":{"type":"band","domain":["BG","AG","AGP","AGA"],"paddingInner":0.31,"paddingOuter":0.324},"axis":{"title":null}},"color":{"field":"c","type":"nominal","scale":{"domain":["BG","AG","AGP","AGA"],"range":["#f58220","#2fb34a","#8f91c9","#f47f86"]},"legend":null}},"layer":[
{"data":{"name":"ds"},"mark":{"type":"bar","filled":false,"strokeWidth":3.3,"width":57},"encoding":{"y":{"field":"mean","type":"quantitative","scale":{"domain":[-0.5,2.5],"range":[282,44],"nice":false,"zero":false},"axis":{"title":"Butyric acid (mg/g)","values":[-0.5,0,0.5,1,1.5,2,2.5],"format":".1f","labelExpr":"replace(datum.label,'\u2212','-')"}}}},
{"data":{"name":"ds"},"mark":{"type":"rule","strokeWidth":2.5},"encoding":{"y":{"field":"lo","type":"quantitative"},"y2":{"field":"hi"}}},
{"data":{"name":"ds"},"mark":{"type":"tick","orient":"horizontal","size":27,"thickness":2.5},"encoding":{"y":{"field":"hi","type":"quantitative"}}},
{"data":{"name":"ds"},"mark":{"type":"tick","orient":"horizontal","size":27,"thickness":2.5},"encoding":{"y":{"field":"lo","type":"quantitative"}}},
{"data":{"name":"dp"},"mark":{"type":"point","filled":true,"opacity":1,"size":105},"encoding":{"xOffset":{"field":"j","type":"quantitative","scale":{"domain":[-3,3],"range":[-2.6,59.4]}},"y":{"field":"v","type":"quantitative"},"shape":{"field":"c","type":"nominal","scale":{"domain":["BG","AG","AGP","AGA"],"range":["circle","square","triangle-up","triangle-down"]},"legend":null}}},
{"data":{"name":"dk"},"mark":{"type":"line","strokeWidth":2,"strokeCap":"square"},"encoding":{"xOffset":{"field":"j","type":"quantitative"},"y":{"field":"v","type":"quantitative"},"detail":{"field":"b"},"order":{"field":"k"},"color":{"value":"#111111"}}},
{"data":{"name":"dt"},"mark":{"type":"text","fontWeight":"normal","baseline":"alphabetic"},"encoding":{"xOffset":{"field":"j","type":"quantitative"},"y":{"field":"v","type":"quantitative"},"text":{"field":"t"},"size":{"field":"z","type":"quantitative","scale":null},"color":{"value":"#111111"}}}
]},{"data":{"name":"zero"},"mark":{"type":"rule","strokeWidth":2.5,"color":"black"},"encoding":{"y":{"datum":0,"type":"quantitative"}}}]}
]},
{"bounds":"flush","spacing":0,"hconcat":[
{"width":10,"height":10,"data":{"name":"zero"},"mark":{"type":"point","opacity":0},"encoding":{}},
{"width":357,"height":295,"title":{"text":"E","dx":-100,"dy":38},"layer":[{"encoding":{"x":{"field":"c","type":"nominal","sort":["BG","AG","AGP","AGA"],"scale":{"type":"band","domain":["BG","AG","AGP","AGA"],"paddingInner":0.31,"paddingOuter":0.324},"axis":{"title":null}},"color":{"field":"c","type":"nominal","scale":{"domain":["BG","AG","AGP","AGA"],"range":["#f58220","#2fb34a","#8f91c9","#f47f86"]},"legend":null}},"layer":[
{"data":{"name":"es"},"mark":{"type":"bar","filled":false,"strokeWidth":3.3,"width":57},"encoding":{"y":{"field":"mean","type":"quantitative","scale":{"domain":[0,0.4],"range":[295,57],"nice":false},"axis":{"title":"Isobutyric acid (mg/g)","values":[0,0.1,0.2,0.3,0.4],"format":".1f"}}}},
{"data":{"name":"es"},"mark":{"type":"rule","strokeWidth":2.5},"encoding":{"y":{"field":"lo","type":"quantitative"},"y2":{"field":"hi"}}},
{"data":{"name":"es"},"mark":{"type":"tick","orient":"horizontal","size":27,"thickness":2.5},"encoding":{"y":{"field":"hi","type":"quantitative"}}},
{"data":{"name":"es"},"mark":{"type":"tick","orient":"horizontal","size":27,"thickness":2.5},"encoding":{"y":{"field":"lo","type":"quantitative"}}},
{"data":{"name":"ep"},"mark":{"type":"point","filled":true,"opacity":1,"size":105},"encoding":{"xOffset":{"field":"j","type":"quantitative","scale":{"domain":[-3,3],"range":[-2.6,59.4]}},"y":{"field":"v","type":"quantitative"},"shape":{"field":"c","type":"nominal","scale":{"domain":["BG","AG","AGP","AGA"],"range":["circle","square","triangle-up","triangle-down"]},"legend":null}}},
{"data":{"name":"ek"},"mark":{"type":"line","strokeWidth":2,"strokeCap":"square"},"encoding":{"xOffset":{"field":"j","type":"quantitative"},"y":{"field":"v","type":"quantitative"},"detail":{"field":"b"},"order":{"field":"k"},"color":{"value":"#111111"}}},
{"data":{"name":"et"},"mark":{"type":"text","fontWeight":"normal","baseline":"alphabetic"},"encoding":{"xOffset":{"field":"j","type":"quantitative"},"y":{"field":"v","type":"quantitative"},"text":{"field":"t"},"size":{"field":"z","type":"quantitative","scale":null},"color":{"value":"#111111"}}}
]}]},
{"width":131,"height":10,"data":{"name":"zero"},"mark":{"type":"point","opacity":0},"encoding":{}},
{"width":357,"height":289,"title":{"text":"F","dx":-106,"dy":38},"layer":[{"encoding":{"x":{"field":"c","type":"nominal","sort":["BG","AG","AGP","AGA"],"scale":{"type":"band","domain":["BG","AG","AGP","AGA"],"paddingInner":0.31,"paddingOuter":0.324},"axis":{"title":null}},"color":{"field":"c","type":"nominal","scale":{"domain":["BG","AG","AGP","AGA"],"range":["#f58220","#2fb34a","#8f91c9","#f47f86"]},"legend":null}},"layer":[
{"data":{"name":"fs"},"mark":{"type":"bar","filled":false,"strokeWidth":3.3,"width":57},"encoding":{"y":{"field":"mean","type":"quantitative","scale":{"domain":[-0.2,0.6],"range":[289,51],"nice":false,"zero":false},"axis":{"title":"Valeric acid (mg/g)","values":[-0.2,0,0.2,0.4,0.6],"format":".1f","labelExpr":"replace(datum.label,'\u2212','-')"}}}},
{"data":{"name":"fs"},"mark":{"type":"rule","strokeWidth":2.5},"encoding":{"y":{"field":"lo","type":"quantitative"},"y2":{"field":"hi"}}},
{"data":{"name":"fs"},"mark":{"type":"tick","orient":"horizontal","size":27,"thickness":2.5},"encoding":{"y":{"field":"hi","type":"quantitative"}}},
{"data":{"name":"fs"},"mark":{"type":"tick","orient":"horizontal","size":27,"thickness":2.5},"encoding":{"y":{"field":"lo","type":"quantitative"}}},
{"data":{"name":"fp"},"mark":{"type":"point","filled":true,"opacity":1,"size":105},"encoding":{"xOffset":{"field":"j","type":"quantitative","scale":{"domain":[-3,3],"range":[-2.6,59.4]}},"y":{"field":"v","type":"quantitative"},"shape":{"field":"c","type":"nominal","scale":{"domain":["BG","AG","AGP","AGA"],"range":["circle","square","triangle-up","triangle-down"]},"legend":null}}},
{"data":{"name":"fk"},"mark":{"type":"line","strokeWidth":2,"strokeCap":"square"},"encoding":{"xOffset":{"field":"j","type":"quantitative"},"y":{"field":"v","type":"quantitative"},"detail":{"field":"b"},"order":{"field":"k"},"color":{"value":"#111111"}}},
{"data":{"name":"ft"},"mark":{"type":"text","fontWeight":"normal","baseline":"alphabetic"},"encoding":{"xOffset":{"field":"j","type":"quantitative"},"y":{"field":"v","type":"quantitative"},"text":{"field":"t"},"size":{"field":"z","type":"quantitative","scale":null},"color":{"value":"#111111"}}}
]},{"data":{"name":"zero"},"mark":{"type":"rule","strokeWidth":2.5,"color":"black"},"encoding":{"y":{"datum":0,"type":"quantitative"}}}]},
{"width":144,"height":10,"data":{"name":"zero"},"mark":{"type":"point","opacity":0},"encoding":{}},
{"width":357,"height":276,"title":{"text":"G","dx":-132,"dy":38},"layer":[{"encoding":{"x":{"field":"c","type":"nominal","sort":["BG","AG","AGP","AGA"],"scale":{"type":"band","domain":["BG","AG","AGP","AGA"],"paddingInner":0.31,"paddingOuter":0.324},"axis":{"title":null}},"color":{"field":"c","type":"nominal","scale":{"domain":["BG","AG","AGP","AGA"],"range":["#f58220","#2fb34a","#8f91c9","#f47f86"]},"legend":null}},"layer":[
{"data":{"name":"gs"},"mark":{"type":"bar","filled":false,"strokeWidth":3.3,"width":57},"encoding":{"y":{"field":"mean","type":"quantitative","scale":{"domain":[-0.02,0.08],"range":[276,38],"nice":false,"zero":false},"axis":{"title":"Caproic acid (mg/g)","values":[-0.02,0,0.02,0.04,0.06,0.08],"format":".2f","labelExpr":"replace(datum.label,'\u2212','-')"}}}},
{"data":{"name":"gs"},"mark":{"type":"rule","strokeWidth":2.5},"encoding":{"y":{"field":"lo","type":"quantitative"},"y2":{"field":"hi"}}},
{"data":{"name":"gs"},"mark":{"type":"tick","orient":"horizontal","size":27,"thickness":2.5},"encoding":{"y":{"field":"hi","type":"quantitative"}}},
{"data":{"name":"gs"},"mark":{"type":"tick","orient":"horizontal","size":27,"thickness":2.5},"encoding":{"y":{"field":"lo","type":"quantitative"}}},
{"data":{"name":"gp"},"mark":{"type":"point","filled":true,"opacity":1,"size":105},"encoding":{"xOffset":{"field":"j","type":"quantitative","scale":{"domain":[-3,3],"range":[-2.6,59.4]}},"y":{"field":"v","type":"quantitative"},"shape":{"field":"c","type":"nominal","scale":{"domain":["BG","AG","AGP","AGA"],"range":["circle","square","triangle-up","triangle-down"]},"legend":null}}},
{"data":{"name":"gk"},"mark":{"type":"line","strokeWidth":2,"strokeCap":"square"},"encoding":{"xOffset":{"field":"j","type":"quantitative"},"y":{"field":"v","type":"quantitative"},"detail":{"field":"b"},"order":{"field":"k"},"color":{"value":"#111111"}}},
{"data":{"name":"gt"},"mark":{"type":"text","fontWeight":"normal","baseline":"alphabetic"},"encoding":{"xOffset":{"field":"j","type":"quantitative"},"y":{"field":"v","type":"quantitative"},"text":{"field":"t"},"size":{"field":"z","type":"quantitative","scale":null},"color":{"value":"#111111"}}}
]},{"data":{"name":"zero"},"mark":{"type":"rule","strokeWidth":2.5,"color":"black"},"encoding":{"y":{"datum":0,"type":"quantitative"}}}]}
]}
]}
